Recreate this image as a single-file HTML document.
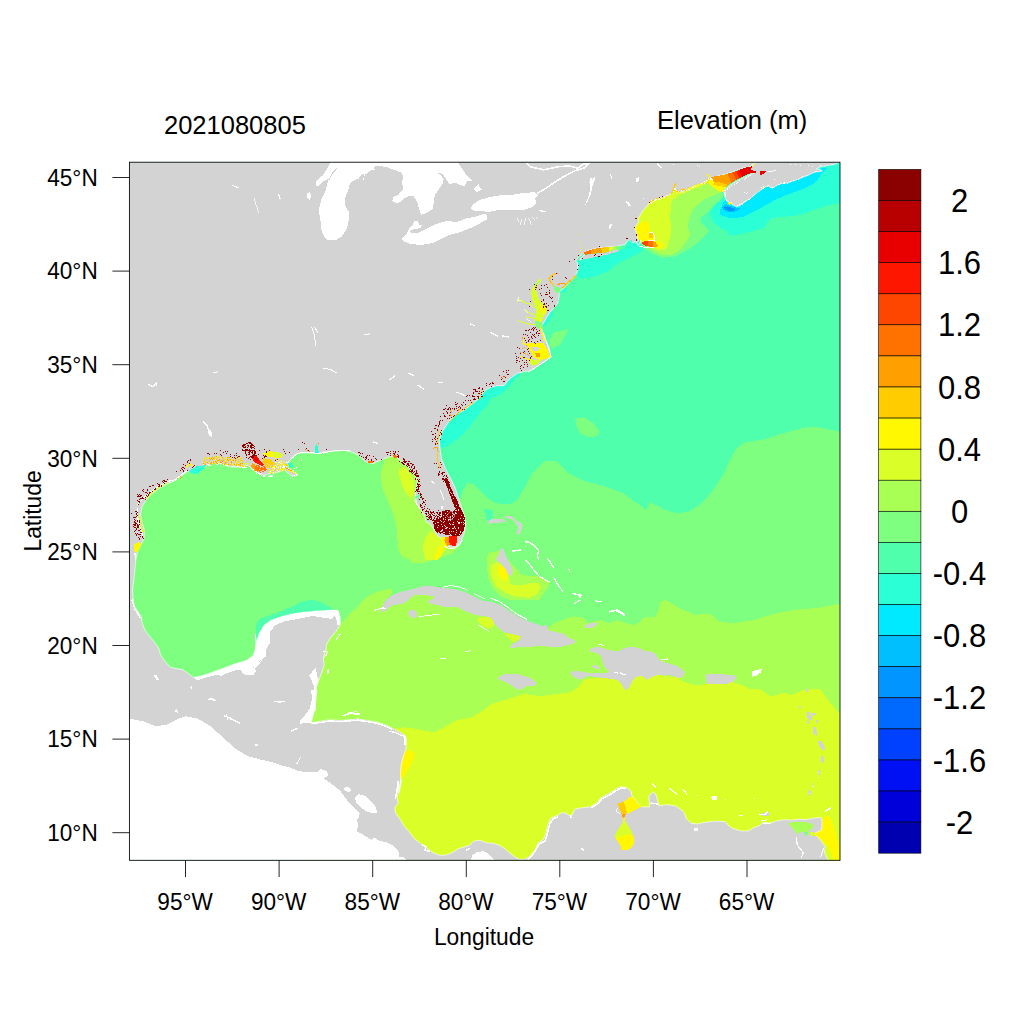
<!DOCTYPE html>
<html><head><meta charset="utf-8"><title>Elevation (m) 2021080805</title>
<style>
html,body{margin:0;padding:0;background:#fff;}
body{width:1024px;height:1024px;overflow:hidden;font-family:"Liberation Sans",sans-serif;}
svg{display:block}
text{font-family:"Liberation Sans",sans-serif;fill:#000}
</style></head><body>
<svg width="1024" height="1024" viewBox="0 0 1024 1024">
<rect width="1024" height="1024" fill="#fff"/>

<svg x="129.4" y="162.2" width="710.6" height="698.1" viewBox="129.4 162.2 710.6 698.1" overflow="hidden"><g shape-rendering="crispEdges">
<path fill="#50FFAC" d="M129,161 841,161 841,862 129,862Z"/>
<path fill="#7FFF7F" d="M129,400 380,400 432,440 445,480 455,498 459.7,500 462.8,490.6 467.5,482.8 473.8,484.4 480,490.6 487.8,498.4 495.6,503.1 508,504.7 516.5,501 524,488.5 531.5,473.5 544,461 556.5,461 569,473.5 584,481 604,486 624,493.5 632.5,499.8 646.2,509.8 650,502.2 662.5,508.5 675,513 687.5,512.2 700,504.8 712.5,491 722.5,476 730,459.8 736.2,448.5 745,442.2 762.5,439.8 782.5,433.5 800,428.5 812.5,426.5 825,428.5 841.2,432.2 841,862 129,862Z"/>
<path fill="#AAFF55" d="M300,862 300,720 318.8,658.1 322.7,645.6 333.6,626.9 339.8,624.5 343.8,620.6 350,613.6 357.8,606.6 364.1,598.8 371.9,594.1 379.7,590.9 387.5,589.4 391.7,589.5 391.7,593.4 387.8,597.3 383.9,602 384.7,607.5 395.6,599.7 411.2,593.4 426.9,591.9 442.5,596.6 458.1,601.2 473.8,607.5 489.4,610.6 505,618.4 520.6,627.8 536.2,635.6 535.6,634.4 548.9,628.9 548.9,626.6 555.9,622.7 565.3,618.8 574.7,616.4 584.1,618 587.2,623.4 593.4,621.1 601.2,620.3 609.1,623.4 616.9,620.3 626.2,623.4 635.6,625 645,617.2 654.4,617.2 659.1,609.4 660.6,601.6 665.3,600 667.5,601 680,608.5 695,614.8 710,613.5 720,622.2 735,623 755,619.8 775,613.5 795,609.8 817.5,608 841.2,603.5 841,862Z"/>
<path fill="#DAFF28" d="M390,862 390,735 394.8,729.1 403.4,727.2 412.8,728.3 423.8,730.6 434.7,732.2 440,729.8 441.5,728.8 456.5,720 471.5,717.5 484,710 491.5,703.8 509,698.8 524,693.8 539,696.2 559,693.8 570,692.2 577.8,687.5 582.5,681.2 585.6,678.9 595,678.1 607.5,676.6 629.4,684.4 632.5,681.2 635.6,677.3 641.9,675.8 646.6,679.7 652.8,676.6 657.5,675 676.2,677.3 680,678.1 680.3,680.2 688.1,683.3 697.5,685.6 706.9,684.1 733.4,682.2 741.2,684.8 749.1,688.8 760,689.5 766.2,693.4 770.9,696.6 778.8,694.2 785,692.7 789.7,695 795.9,693.4 802.2,690.3 810,689.5 820,688.8 830,702.5 841.2,715 841,862Z"/>
<path fill="#50FFAC" d="M255.5,642.5 256.2,626.9 260.9,620.6 270.3,615.2 281.2,611.2 293.8,605.8 303.1,601.1 312.5,600 320.3,601.9 328.1,605.8 334.4,610 337.5,615.9 296.9,626.9 265.6,645.6Z"/>
<path fill="#50FFAC" d="M256.1,624.4 260,618.9 268.6,615.8 288,610 288,621.2 268.6,629.1 262.4,641.6 256.4,640.8Z"/>
<path fill="#AAFF55" d="M385.9,458.1 382.8,465.9 380.5,476.9 382.8,489.4 387.5,500.3 392.2,511.2 396.1,523.8 397.7,539.4 398.4,550.3 404.7,560 396.4,525 397.2,537.5 398.8,550 405,557.8 411.2,560 409,562.2 421.5,563.5 434,559.8 451.5,553.5 456.5,548.5 456.5,516 434,466 409,453.5Z"/>
<path fill="#DAFF28" d="M399.5,468.8 405,467.2 411.2,475 414.4,482.8 413.6,493.8 411.2,498.4 406.6,493.8 401.9,484.4 398.8,475Z"/>
<path fill="#DAFF28" d="M423.8,540.6 430,531.2 433.9,532.8 442.5,539.1 448.8,546.9 442.5,553.1 437.8,560 425.3,560 423,550Z"/>
<path fill="#FFF800" d="M434.7,556.2 437.8,546.9 441.7,545.3 443.3,550 440.2,557.8 436.2,560 434.7,560Z"/>
<path fill="#2AFFD5" d="M478.4,400 489.4,400 487.8,404.7 481.6,410.9 475.3,418.8 469.1,426.6 462.8,434.4 453.4,442.2 445.6,446.9 440.9,448.4 437.8,440.6 440.9,431.2 447.2,421.9 456.6,414.1 465.9,407Z"/>
<path fill="#2AFFD5" d="M446.2,420 455.6,412.2 468.1,404.4 479.1,395 483.8,388.8 490,385.6 496.2,384.1 502.5,384.1 505.6,380.9 510.3,375.5 516.6,371.6 522.8,370.8 518.1,376.2 513.4,380.2 510.3,385.6 505.6,390.3 499.4,395 491.6,398.1 485.3,402.8 479.1,409.1 474.4,415.3 472,420 469.7,427.8 455.6,429.4Z"/>
<path fill="#2AFFD5" d="M541.2,325.6 546.2,318.8 548.8,313.8 553.1,309.4 552.5,315 549.4,321.2 546.2,325 543.1,326.5Z"/>
<path fill="#2AFFD5" d="M560.6,289.4 567.5,287.8 566.2,291.2 562.5,292.8 559.8,292.2Z"/>
<path fill="#2AFFD5" d="M576.9,276.2 577.8,271.2 577.5,265 577.5,265 575,261.9 578.8,260 618.8,250 625,248.8 626.2,243.8 630,241.2 636.2,242.5 641.2,240 642.5,243.8 638.8,246.2 643.8,248.1 642.5,251.2 635,255 627.5,258.8 620,262.5 612.5,266.2 605,270 597.5,272.5 590,275 582.5,277.5 575,280 617.5,265 607.5,271.2 597.5,275.6 587.5,278.1 581.2,278.8Z"/>
<path fill="#7FFF7F" d="M551.2,335 555,331.9 561.2,330.6 566.2,330 568.8,328.1 566.9,332.5 565,336.2 562.5,340 560,345 553.8,347.5 551.2,342.5Z"/>
<path fill="#7FFF7F" d="M549.4,340.3 552.5,334.8 558.8,330.9 566.6,330.2 565,335.6 561.9,340.3 557.2,345 552.5,348.9 550.2,345.8Z"/>
<path fill="#7FFF7F" d="M575.2,418.5 584,417.2 594,423.5 599.5,431 597.8,436 589,437.2 580.2,433.5 576.5,426Z"/>
<path fill="#7FFF7F" d="M713.8,177.2 723.9,195.9 720,200.6 713.8,205.3 707.5,211.6 701.2,217.8 701.2,222.5 705.9,227.2 709.1,230.3 704.4,236.6 698.1,242.8 688.8,249.1 680.9,253.8 673.1,256.9 662.2,257.7 652.8,253.8 646.6,249.8 638.8,241.2 632.5,222.5 651.2,191.2Z"/>
<path fill="#AAFF55" d="M713.8,177.2 721.6,192 713.8,195.2 704.4,199.1 696.6,205.3 691.9,211.6 688.8,219.4 688,227.2 690.3,235 685.6,242.8 679.4,250.6 671.6,254.5 663.8,255.3 655.9,252.2 651.2,249.1 638.8,241.2 632.5,222.5 651.2,191.2Z"/>
<path fill="#DAFF28" d="M713.8,177.2 712.2,183.4 707.5,183.4 698.1,187.3 688.8,191.2 679.4,195.2 671.6,200.6 670.8,210 670,219.4 671.6,228.8 670,238.1 668.4,244.4 665.3,249.8 659.1,250.6 653.6,248.3 638.8,241.2 632.5,222.5 651.2,191.2Z"/>
<path fill="#FFF800" d="M636.4,227.2 643.4,220.9 648.9,222.5 650.5,231.9 653.6,235 655.2,241.2 660.6,242.8 663,246.7 657.5,248.3 653.6,245.2 649.7,240.5 643.4,240.5 635.6,241.2 632.5,230.3Z"/>
<path fill="#2AFFD5" d="M723.9,195.9 720,200.6 713.8,205.3 709.8,213.9 713.8,222.5 721.6,228.8 729.4,231.9 727.5,235 735,235.6 745,233.1 755,230.6 763.8,228.1 767.5,222.5 771.2,218.1 780,216.9 790,216.2 800,215 807.5,212.5 815,209.4 825,206.2 841.2,202.5 841.2,160 795,172.5 745,197.5Z"/>
<path fill="#00EAFF" d="M723.8,201.2 720,210 720,215 727.5,217.5 736.2,218.1 745,216.2 755,211.2 765,205.6 775,200 785,195.6 795,191.9 805,188.1 812.5,184.4 817.5,180 821.2,174.4 823.8,171.9 827.5,167.5 795,172.5 745,191.2Z"/>
<path fill="#00BFFF" d="M721.9,206.9 726.2,204.4 731.2,206.2 736.2,207.5 740,208.1 737.5,210.6 732.5,212.2 727.5,211.8 723.1,209.6Z"/>
<path fill="#0095FF" d="M724,207.5 727.5,206.2 732.5,208.1 736.2,209 733.8,210.6 728.8,210.6 725,209.5Z"/>
<path fill="#AAFF55" d="M488,553.1 498.9,550.8 510.6,562.5 521.6,575 538.8,576.6 549.7,582 548.1,587.5 543.4,593.8 538.8,600 510.6,600 501.2,596.9 493.4,589.1 488,578.1 486.9,562.5Z"/>
<path fill="#DAFF28" d="M491.1,565.6 495.8,561.7 499.7,563.3 509.1,578.1 510.6,584.4 521.6,585.2 532.5,582.8 538.8,582.8 540.3,587.5 537.2,593.8 529.4,597.7 516.9,596.9 505.9,593 496.6,586.7 491.9,578.1 490.3,570.3Z"/>
<path fill="#FFF800" d="M498.1,567.2 501.2,564.1 505.9,568.8 508.3,575 506.7,579.7 502.8,580.5 499.7,576.6 498.1,571.9Z"/>
<path fill="#50FFAC" d="M482.5,508.6 493.4,510.2 493.4,517.2 489.5,521.1 486.4,520.3 485.6,514.1Z"/>
<path fill="#DAFF28" d="M478.4,617.7 489.4,616.1 494.1,621.6 493.3,627 487.8,628.6 481.6,625.5 478.4,621.6Z"/>
<path fill="#DAFF28" d="M504.2,633.3 515.9,634.8 520.6,636.4 519.1,639.5 512.8,641.9 508.1,637.2Z"/>
<path fill="#FFF800" d="M405,752.5 408.9,750.2 413.6,752.5 413.6,758.8 409.7,766.6 405,774.4 401.6,779.1 399.5,771.2 400.3,763.4 402.7,755.6Z"/>
<path fill="#FFF800" d="M820.6,823.9 823.8,816.9 828.4,816.1 831.6,820 833.9,827.8 836.2,835.6 838.6,843.4 839.1,860.6 833.9,860.6 830,851.2 826.9,845 822.2,840.3 815.9,835.6 814.4,832.5 821.4,830.2Z"/>
<path fill="#D3D3D3" d="M129,161 839,161 838.8,162.5 832.5,165 826.2,165.6 820,166.9 816.2,168.8 820,169.4 822.5,171.2 816.2,171.9 812.5,173.1 807.5,175.6 802.5,177.5 797.5,179.4 792.5,181.2 787.5,183.1 782.5,183.1 777.5,185 772.5,188.1 767.5,185.6 762.5,188.8 757.5,192.5 751.2,197.5 745,201.9 740,205.6 736.2,206.9 732.5,204.4 727.5,201.9 725,197.5 723.8,191.2 726.2,188.1 731.2,184.4 737.5,180.6 743.8,177.5 750,174.4 755,173.1 756.2,171.9 751.2,171.2 749.4,168.1 753.1,165 755.6,162.5 754.8,162.2 751.9,165.6 749.4,166.9 745,167.5 738.8,169.4 732.5,171.9 726.2,173.8 720,175.6 713.8,177.2 712.2,180.3 709.8,176.4 707.5,180.3 701.2,184.2 693.4,186.6 685.6,190.5 677.8,192.8 674.7,188.1 671.6,193.6 665.3,196.7 657.5,199.1 649.7,203 643.4,210 638,218.6 638.8,221.7 634.8,227.2 636.4,233.4 638.8,241.2 641.2,240.6 640,243.8 638.1,245.6 636.2,241.9 631.9,242.5 630,240.6 627.5,241.2 625,244.4 620,245.6 613.8,246.5 605,247.2 597.5,248.1 590,250 585,251.9 583.1,253.8 578.8,256.9 575.6,261.2 577.5,262.5 578.1,267.5 578.1,265 577.5,271.2 575,276.2 571.2,280.6 568.1,283.8 565,286.9 561.9,290 558.8,291.9 559.4,293.1 558.8,298.8 557.5,303.8 553.8,308.1 550,312.5 547.5,316.2 543.8,322.5 541.9,325.6 541.2,327.5 542.5,331.2 544.4,336.2 543.1,332.5 546.2,340.3 549.4,348.1 550.9,356.7 546.2,360.6 540,364.5 533.8,368.4 529.8,370.8 524.4,371.6 518.1,373.1 511.9,377 507.2,381.7 504.1,385.6 497.8,385.6 491.6,387.2 485.3,390.3 480.6,396.6 475.9,401.2 469.7,405.9 463.4,410.6 457.2,413.8 452.5,416.9 448.8,421.9 442.5,431.2 439.4,440.6 440.2,450 441.7,459.4 445.6,468.8 450.3,478.1 455,487.5 458.1,496.9 461.2,506.2 464.4,515.6 465.6,523.4 464.4,532.8 461.2,540.6 457.3,546.1 451.9,547.7 447.2,546.1 442.5,539.1 436.2,534.4 433.1,528.1 430,523.4 426.1,521.9 424.5,515.6 420.6,509.4 416.7,503.1 415.2,496.9 415.9,489.1 417.5,481.2 415.2,475 409.7,468.8 403.4,462.5 397.2,457.8 390.9,456.2 385.9,458.1 379.7,460.5 373.4,463.6 365.6,462 359.4,455.8 351.6,451.9 343.8,450.3 334.4,451.1 325,451.9 318.8,453.1 312.5,453.4 304.7,452.7 296.9,453.4 292.2,457.3 289.1,461.2 287.5,466.7 292.2,470.6 296.9,474.5 295.3,476.1 290.6,475.3 284.4,469.8 278.1,472.2 271.9,473 264.1,475.3 256.2,472.2 250,467.5 248.3,465.2 240.5,466.7 232.7,467.2 224.9,465.2 218.6,463.1 212.4,463.1 206.1,465.2 203,469.1 196.8,473.8 190.5,472.2 187.4,471.4 181.1,476.1 174.9,480.8 167.1,483.9 159.2,488.6 151.4,494.1 146,500.3 142.1,506.6 140.5,514.4 142.1,522.2 144.4,530 144.4,537.8 141.3,544.1 137.4,551.9 135.8,560 134.2,576 132.5,591 133.5,601 132.7,599.4 135,607.2 141.3,616.6 142.1,622.8 145.2,630.6 151.4,638.4 158.5,647.8 160.8,655.6 165.5,661.9 170.2,667.3 178,668.9 182.7,669.7 187.4,672.8 191.3,675.9 193.6,677.5 201.4,675.9 210.8,672.8 221.8,668.9 234.2,664.2 246.8,660.3 253,655.6 255.3,649.4 255.8,641.6 255.3,633.8 256.2,642.5 259.4,633.1 264.1,625.3 270.3,620.6 281.2,616.7 293.8,613.6 306.2,612 318.8,610.9 331.2,610.2 338.3,610.5 339.8,615.9 340.6,622.2 339.8,625.3 335.9,631.6 330.5,637.8 326.6,644.1 325.8,650.3 323.4,658.1 324.2,664.4 321.9,672.2 318.8,680 316.4,687.8 315.6,698.8 316.7,690 315.9,699.4 315.2,708.8 312.8,716.6 311.2,722.8 320.6,721.2 330,719.7 339.4,720.5 348.8,719.7 358.1,718.9 367.5,720.5 376.9,722 386.2,725.2 392.5,728.3 398.8,731.4 405,735.3 406.6,740 405.8,749.4 403.4,755.6 401.1,765 400.3,774.4 401.1,783.8 398.8,793.1 401.1,779.4 398.8,788.8 397.2,798.1 398,803.6 394.8,807.5 395.6,813 399.5,818.4 404.2,826.2 409.7,832.5 414.4,838.8 420.6,843.4 426.9,848.1 433.1,852.8 439.4,855.2 445.6,855.2 451.9,852.8 458.1,848.9 465.2,846.6 469.8,845 473.8,841.1 480,840.3 486.2,842.7 494.1,843.4 500.3,845.8 505,848.9 509.7,852.8 514.4,856.7 519.1,859.4 525.3,859.1 530.9,855.3 535.6,849.1 538,842.8 543.4,839.7 545.8,833.4 548.1,824.1 551.2,817.8 557.5,815.5 562.2,812.3 566.9,813.9 571.6,816.2 574.7,809.2 582.5,807.7 590.3,806.9 596.6,803 601.2,797.5 607.5,794.4 613.8,790.5 620,786.6 626.2,787.3 630.9,791.2 631.7,795.2 641.1,806.9 649.7,806.9 648.9,795.9 652.8,792 655.9,794.4 657.5,800.6 659.1,805.8 666.9,804.5 676.2,806.1 680,809.1 683.9,812.2 686.2,818.4 690.9,823.1 697.2,823.9 705,822.3 714.4,821.2 725.3,821.6 728.4,825.5 733.1,828.6 740.9,830.9 748.8,830.9 753.4,827.8 759.7,825.5 762.8,822.3 770.6,823.1 776.9,820.8 784.7,819.7 792.5,820 798.8,819.2 805,819.7 809.7,818.8 815.9,817.7 821.4,817.7 822.2,823.1 821.4,830.2 814.4,833.3 820.6,840.3 825.3,846.6 824.5,852.8 828.4,860.6 841,862 129,862Z"/>
<path fill="none" stroke="#fff" stroke-width="0.8" shape-rendering="auto" stroke-opacity="0.8" d="M838.8,162.5 832.5,165.0 826.2,165.6 820.0,166.9 816.2,168.8 820.0,169.4 822.5,171.2 816.2,171.9 812.5,173.1 807.5,175.6 802.5,177.5 797.5,179.4 792.5,181.2 787.5,183.1 782.5,183.1 777.5,185.0 772.5,188.1 767.5,185.6 762.5,188.8 757.5,192.5 751.2,197.5 745.0,201.9 740.0,205.6 736.2,206.9 732.5,204.4 727.5,201.9 725.0,197.5 723.8,191.2 726.2,188.1 731.2,184.4 737.5,180.6 743.8,177.5 750.0,174.4 755.0,173.1 756.2,171.9 751.2,171.2 749.4,168.1 753.1,165.0 755.6,162.5 754.8,162.2 751.9,165.6 749.4,166.9 745.0,167.5 738.8,169.4 732.5,171.9 726.2,173.8 720.0,175.6 713.8,177.2 712.2,180.3 709.8,176.4 707.5,180.3 701.2,184.2 693.4,186.6 685.6,190.5 677.8,192.8 674.7,188.1 671.6,193.6 665.3,196.7 657.5,199.1 649.7,203.0 643.4,210.0 638.0,218.6 638.8,221.7 634.8,227.2 636.4,233.4 638.8,241.2 641.2,240.6 640.0,243.8 638.1,245.6 636.2,241.9 631.9,242.5 630.0,240.6 627.5,241.2 625.0,244.4 620.0,245.6 613.8,246.5 605.0,247.2 597.5,248.1 590.0,250.0 585.0,251.9 583.1,253.8 578.8,256.9 575.6,261.2 577.5,262.5 578.1,267.5 578.1,265.0 577.5,271.2 575.0,276.2 571.2,280.6 568.1,283.8 565.0,286.9 561.9,290.0 558.8,291.9 559.4,293.1 558.8,298.8 557.5,303.8 553.8,308.1 550.0,312.5 547.5,316.2 543.8,322.5 541.9,325.6 541.2,327.5 542.5,331.2 544.4,336.2 543.1,332.5 546.2,340.3 549.4,348.1 550.9,356.7 546.2,360.6 540.0,364.5 533.8,368.4 529.8,370.8 524.4,371.6 518.1,373.1 511.9,377.0 507.2,381.7 504.1,385.6 497.8,385.6 491.6,387.2 485.3,390.3 480.6,396.6 475.9,401.2 469.7,405.9 463.4,410.6 457.2,413.8 452.5,416.9 448.8,421.9 442.5,431.2 439.4,440.6 440.2,450.0 441.7,459.4 445.6,468.8 450.3,478.1 455.0,487.5 458.1,496.9 461.2,506.2 464.4,515.6 465.6,523.4 464.4,532.8 461.2,540.6 457.3,546.1 451.9,547.7 447.2,546.1 442.5,539.1 436.2,534.4 433.1,528.1 430.0,523.4 426.1,521.9 424.5,515.6 420.6,509.4 416.7,503.1 415.2,496.9 415.9,489.1 417.5,481.2 415.2,475.0 409.7,468.8 403.4,462.5 397.2,457.8 390.9,456.2 385.9,458.1 379.7,460.5 373.4,463.6 365.6,462.0 359.4,455.8 351.6,451.9 343.8,450.3 334.4,451.1 325.0,451.9 318.8,453.1 312.5,453.4 304.7,452.7 296.9,453.4 292.2,457.3 289.1,461.2 287.5,466.7 292.2,470.6 296.9,474.5 295.3,476.1 290.6,475.3 284.4,469.8 278.1,472.2 271.9,473.0 264.1,475.3 256.2,472.2 250.0,467.5 248.3,465.2 240.5,466.7 232.7,467.2 224.9,465.2 218.6,463.1 212.4,463.1 206.1,465.2 203.0,469.1 196.8,473.8 190.5,472.2 187.4,471.4 181.1,476.1 174.9,480.8 167.1,483.9 159.2,488.6 151.4,494.1 146.0,500.3 142.1,506.6 140.5,514.4 142.1,522.2 144.4,530.0 144.4,537.8 141.3,544.1 137.4,551.9 135.8,560.0 134.2,576.0 132.5,591.0 133.5,601.0 132.7,599.4 135.0,607.2 141.3,616.6 142.1,622.8 145.2,630.6 151.4,638.4 158.5,647.8 160.8,655.6 165.5,661.9 170.2,667.3 178.0,668.9 182.7,669.7 187.4,672.8 191.3,675.9 193.6,677.5 201.4,675.9 210.8,672.8 221.8,668.9 234.2,664.2 246.8,660.3 253.0,655.6 255.3,649.4 255.8,641.6 255.3,633.8 256.2,642.5 259.4,633.1 264.1,625.3 270.3,620.6 281.2,616.7 293.8,613.6 306.2,612.0 318.8,610.9 331.2,610.2 338.3,610.5 339.8,615.9 340.6,622.2 339.8,625.3 335.9,631.6 330.5,637.8 326.6,644.1 325.8,650.3 323.4,658.1 324.2,664.4 321.9,672.2 318.8,680.0 316.4,687.8 315.6,698.8 316.7,690.0 315.9,699.4 315.2,708.8 312.8,716.6 311.2,722.8 320.6,721.2 330.0,719.7 339.4,720.5 348.8,719.7 358.1,718.9 367.5,720.5 376.9,722.0 386.2,725.2 392.5,728.3 398.8,731.4 405.0,735.3 406.6,740.0 405.8,749.4 403.4,755.6 401.1,765.0 400.3,774.4 401.1,783.8 398.8,793.1 401.1,779.4 398.8,788.8 397.2,798.1 398.0,803.6 394.8,807.5 395.6,813.0 399.5,818.4 404.2,826.2 409.7,832.5 414.4,838.8 420.6,843.4 426.9,848.1 433.1,852.8 439.4,855.2 445.6,855.2 451.9,852.8 458.1,848.9 465.2,846.6 469.8,845.0 473.8,841.1 480.0,840.3 486.2,842.7 494.1,843.4 500.3,845.8 505.0,848.9 509.7,852.8 514.4,856.7 519.1,859.4 525.3,859.1 530.9,855.3 535.6,849.1 538.0,842.8 543.4,839.7 545.8,833.4 548.1,824.1 551.2,817.8 557.5,815.5 562.2,812.3 566.9,813.9 571.6,816.2 574.7,809.2 582.5,807.7 590.3,806.9 596.6,803.0 601.2,797.5 607.5,794.4 613.8,790.5 620.0,786.6 626.2,787.3 630.9,791.2 631.7,795.2 641.1,806.9 649.7,806.9 648.9,795.9 652.8,792.0 655.9,794.4 657.5,800.6 659.1,805.8 666.9,804.5 676.2,806.1 680.0,809.1 683.9,812.2 686.2,818.4 690.9,823.1 697.2,823.9 705.0,822.3 714.4,821.2 725.3,821.6 728.4,825.5 733.1,828.6 740.9,830.9 748.8,830.9 753.4,827.8 759.7,825.5 762.8,822.3 770.6,823.1 776.9,820.8 784.7,819.7 792.5,820.0 798.8,819.2 805.0,819.7 809.7,818.8 815.9,817.7 821.4,817.7 822.2,823.1 821.4,830.2 814.4,833.3 820.6,840.3 825.3,846.6 824.5,852.8 828.4,860.6"/>
<path fill="#FFFFFF" d="M128,718 130,718.8 143,721.2 155.5,726.2 165.5,725 175.5,720 185.5,716.2 198,718.8 210.5,726.2 223,737.5 235.5,748.8 248,756.2 260.5,759.5 273,762.5 280,765 289.4,767.3 297.2,770.5 305,772 317.5,772 320.6,768.9 326.9,771.2 328.4,775.9 323.8,778.3 331.6,783.8 339.4,790 344.1,796.2 348.8,802.5 355,808.8 359.7,813.4 358.9,818.1 356.8,818.8 358,825 356.8,831.2 365.5,836.2 371.8,840 374.2,837.5 380,841.1 386.2,841.9 392.5,845 397.2,849.7 399.5,854.4 398.8,857.5 403.4,856.7 407.3,860.6 470.6,860.6 472.2,855.2 476.9,852 483.1,851.2 489.4,854.4 494.8,860.6 500,863 128,863Z"/>
<path fill="#D3D3D3" d="M578.8,260 581.9,256.9 585,255 592.5,254 601.2,253.1 607.5,252.5 611.2,250.6 615,250 618.8,250 618.1,251.5 612.5,253.1 606.2,255 597.5,256.5 590,258.1 583.8,259.4 578.8,260.9Z"/>
<path fill="#D3D3D3" d="M380.8,608.3 384.7,602 390.9,595.8 400.3,591.9 411.2,589.5 422.2,586.4 433.1,586.4 442.5,588 453.4,588.8 464.4,591.9 473.8,596.6 481.6,600.5 492.5,602 501.9,605.9 509.7,611.4 517.5,616.1 525.3,620 533.1,623.1 540,625.5 526.2,620.3 534.1,623.4 541.9,625.8 546.6,625 548.9,630.5 555.9,632 563.8,633.6 568.4,637.5 574.7,640.3 575.5,643 570,644.5 560.6,646.9 551.2,646.9 541.9,646.1 530.9,646.6 520,647.3 528.4,646.6 517.5,647.3 509.7,648.1 512.8,643.4 519.1,640.3 520.6,636.4 515.9,634.8 505,632.5 500.3,629.4 494.8,624.7 492.5,620 489.4,616.9 481.6,616.1 473.8,614.5 465.9,611.4 458.1,607.5 450.3,606.7 444.1,607.5 439.4,605.2 433.1,604.4 426.9,602 430,599.7 434.7,598.1 433.1,595.8 425.3,595.3 414.4,595.3 409.7,598.9 403.4,603.6 392.5,605.2 389.4,607.5 384.7,611.4 381.6,612.2Z"/>
<path fill="#D3D3D3" d="M408.1,612.2 411.2,609.8 415.2,610.3 417.5,613.8 416.7,616.9 412.8,618.1 408.9,616.1Z"/>
<path fill="#D3D3D3" d="M589.5,649.2 595,646.9 601.2,647.7 607.5,649.7 613.8,650.8 620,650.8 624.7,647.7 632.5,646.9 638.8,648.1 645,650.8 651.2,651.6 655.9,653.9 659.1,660.2 665.3,662.5 671.6,664.1 677.8,667.2 667.8,663.8 675.6,665.3 681.9,669.2 685,672.3 682.7,677 678.8,678.6 675.6,676.2 667.8,675 660,675 676.2,677.3 670,675.8 663.8,675.3 657.5,675 652.8,676.6 646.6,679.7 641.9,675.8 635.6,677.3 632.5,681.2 629.4,687.5 626.2,690.6 623.1,687.5 621.6,683.6 618.4,680.5 612.2,678.9 604.4,678.1 596.6,677.3 588.8,675.8 584.1,678.1 579.4,679.7 573.1,676.6 570,673.4 573.1,671.1 579.4,671.1 587.2,672.7 595,673.4 602.8,673.4 609.1,671.9 605.9,668.8 602.8,664.1 602,658.6 599.7,654.7 595,652.3 590.3,651.6Z"/>
<path fill="#D3D3D3" d="M591.9,665.6 596.6,665.3 600.5,668 598.1,669.5 593.4,668Z"/>
<path fill="#D3D3D3" d="M584.8,625.8 588.8,623.4 595,622.7 597.3,621.1 596.6,625 591.9,628.1 585.6,628.4Z"/>
<path fill="#D3D3D3" d="M497.8,677.5 504,674.5 516.5,673.8 529,677.5 536.5,682.5 535.2,685.5 526.5,686.2 520.2,690 514,687.5 506.5,682.5 499,680Z"/>
<path fill="#D3D3D3" d="M705.3,674.7 711.6,673.9 722.5,674.4 735,675 735.8,678.6 733.4,681.7 727.2,683.8 717.8,683.8 706.9,684.1 706.1,679.4Z"/>
<path fill="#FFFFFF" d="M752.2,671.6 756.9,669.7 761.6,669.2 760.8,672.3 756.9,675.5 752.2,676.6Z"/>
<path fill="#D3D3D3" d="M500.5,549.2 503.6,549.2 506.7,557.8 510.6,565.6 513,570.3 511.4,575.8 508.3,575 505.2,568.8 501.2,564.1 495.8,559.4 498.9,553.9Z"/>
<path fill="#D3D3D3" d="M487.2,521.1 493.4,518.8 504.4,519.5 506.7,521.9 493.4,523.1 489.5,523.8Z"/>
<path fill="#D3D3D3" d="M505.2,516.4 512.2,516.4 516.9,521.1 522.3,523.4 522.3,528.1 519.2,535.2 516.1,533.6 518.4,528.1 516.9,524.2 512.2,519.5 505.9,518Z"/>
<path fill="none" stroke="#FFFFFF" stroke-width="1.4" d="M525.5,542.2 528.6,541.9 534.1,545.3 538.8,550 537.2,556.2 538.8,559.4"/>
<path fill="none" stroke="#FFFFFF" stroke-width="1.4" d="M546.6,558.6 549.7,560.9 553.6,568"/>
<path fill="none" stroke="#FFFFFF" stroke-width="1.2" d="M525.5,560.2 529.4,564.1 534.1,570.3 538.8,575.8 545,579.7 549.7,582"/>
<path fill="none" stroke="#FFFFFF" stroke-width="1.2" d="M553.6,577.3 556.7,582.8 559.8,587.5 563,591.4"/>
<path fill="none" stroke="#FFFFFF" stroke-width="1.4" d="M512.2,551.2 520.8,550"/>
<path fill="none" stroke="#FFFFFF" stroke-width="1.6" d="M572.3,593.4 580.9,595.3 579.4,598.4"/>
<path fill="none" stroke="#FFFFFF" stroke-width="1.2" d="M568.8,568.8 570,571.9"/>
<path fill="#D3D3D3" d="M806.5,712.5 809.5,712 811.2,715 812.5,719.5 809.5,720.5 807.5,717.5Z"/>
<path fill="#D3D3D3" d="M812.5,727.5 815.5,727 817,731.2 816.5,735.5 814,735 813,731.2Z"/>
<path fill="#D3D3D3" d="M818,741.2 821.2,740.5 823.8,744.5 825,749.5 822,750 819.5,746.2Z"/>
<path fill="#D3D3D3" d="M820.8,756.2 823.2,755.5 824,760 823,763.8 821,762.5Z"/>
<path fill="#D3D3D3" d="M817.5,770 820,769.5 820,774.5 818,775Z"/>
<path fill="#D3D3D3" d="M812.5,783 814.5,782.5 814,787.5 812.5,787.5Z"/>
<path fill="#D3D3D3" d="M807.5,791.2 810.5,790 810.5,794.5 808,795.5Z"/>
<path fill="#D3D3D3" d="M805.5,688.8 808,688.2 808,691.8 806,692Z"/>
<path fill="#D3D3D3" d="M798.8,705.5 800.8,705.5 800.5,708 799,708Z"/>
<path fill="#D3D3D3" d="M806.5,721.2 809,721.2 809,723.5 807,723.8Z"/>
<path fill="#D3D3D3" d="M815.5,720.5 818,720 818.2,722.5 816,723Z"/>
<path fill="#D3D3D3" d="M811.2,713 815.5,712.5 816.5,715 812.5,715.8Z"/>
<path fill="#D3D3D3" d="M758.9,813.8 764.4,813 767.5,810.9 769.8,813 768.3,816.1 762.8,816.1Z"/>
<path fill="#FFFFFF" d="M711.2,796.6 717.2,795.8 717.5,799.7 712,800.5Z"/>
<path fill="none" stroke="#FFFFFF" stroke-width="1.2" d="M652,783.4 655.9,787.3"/>
<path fill="none" stroke="#FFFFFF" stroke-width="1.2" d="M669.2,788.1 677,794.4"/>
<path fill="none" stroke="#FFFFFF" stroke-width="1.2" d="M683.1,789.5 687,794.2"/>
<path fill="none" stroke="#FFFFFF" stroke-width="1.5" d="M825.3,811.4 830.8,807.8"/>
<path fill="#FFFFFF" d="M331.2,160 327.3,168.8 322.5,175.6 316.6,180.5 315.6,185.4 318.6,186.4 323.4,181.5 329.3,178.6 327.3,183.4 325.4,191.2 321.5,199.1 318.6,210.8 320.5,220.5 321.5,230.3 324.4,237.1 328.3,240.5 336.1,240.1 342,236.2 346.9,228.4 349.2,218.6 348.8,211.8 345.3,205.9 344.9,198.1 347.9,191.2 349.8,183.4 353.7,180.5 358.6,178.6 360.5,175.6 363.5,173.7 364.5,178.6 362.5,180.5 365.4,174.6 370.3,170.7 375.2,169.8 373.2,166.8 378.1,165.9 385.9,166.8 393.8,169.8 401.6,172.7 403.5,177.6 401.6,181.5 403.5,189.3 399.6,193.2 398.6,195.2 393.8,196.1 392.2,201 396.7,203.4 400.6,202 404.5,198.1 409.4,196.1 413.3,196.1 417.2,202 419.1,208.8 421.1,214.7 427,212.7 432.8,208.8 434.8,195.2 438.7,189.3 442.6,183.4 443.6,179.5 440.6,174.6 436.7,172.7 442.6,173.7 446.5,179.5 449.4,184.4 454.3,182.5 464.1,186.4 467,181.5 471.9,180.5 466,174.6 462.1,168.8 456.2,160Z"/>
<path fill="none" stroke="#D3D3D3" stroke-width="1.2" d="M329.3,179.5 332.2,173.7 337.1,167.8"/>
<path fill="#FFFFFF" d="M401.6,239.1 406.4,234.2 409.4,228.4 412.3,225.4 414.3,221.5 417.2,220.9 419.1,224.5 422.1,225.4 420.1,228.4 413.3,228.8 409.4,232.3 417.2,233.2 421.1,231.3 432.8,225.4 440.6,222.5 448.4,220.9 456.2,222.1 466,218.6 475.8,216.6 484.6,213.7 487.5,215.7 486.5,219.6 479.7,223.5 471.9,227.4 460.2,232.3 448.4,235.2 438.7,240.1 432.8,243 421.1,245 410.4,244 404.5,241.6Z"/>
<path fill="#FFFFFF" d="M470.7,207.9 473.7,203.9 479.5,200 489.3,197.1 499.1,195.5 510.8,195.2 518.6,193.6 526.4,192.8 534.2,192.2 538.1,195.2 535.2,198.1 536.2,203.9 532.3,206.9 522.5,210.4 510.8,209.8 499.1,209.8 489.3,211.8 479.5,211.2 472.7,210.4Z"/>
<path fill="#FFFFFF" d="M476.8,185.4 478.7,183.4 479.7,187.3 482.6,189.3 476.8,192.2 473.4,189.3Z"/>
<path fill="#FFFFFF" d="M307.4,193.2 309.8,192.2 310.9,195.2 309.4,200 307.4,198.1Z"/>
<path fill="none" stroke="#FFFFFF" stroke-width="1.6" d="M537.1,193.6 545.9,188.3 555.7,181.5 565.5,175.6 575.2,170.7 585,167.8 588.9,163.9 583,164.3 578.2,168.2 569.4,165.9 557.7,166.8 544,169.8 530.3,166.8 526.4,162.9"/>
<path fill="#FFFFFF" d="M590.5,178 592.8,178.6 595.2,176.6 594.4,181.5 592.8,184.4 592,189.3 590.1,196.1 587.3,202 584.2,206.9 586.6,201 588.9,195.2 590.5,187.3 589.3,182.5Z"/>
<path fill="none" stroke="#FFFFFF" stroke-width="0.8" d="M516.6,217.6 518.6,221.5"/>
<path fill="none" stroke="#FFFFFF" stroke-width="0.8" d="M522.1,218.6 520.2,225.4"/>
<path fill="none" stroke="#FFFFFF" stroke-width="0.8" d="M525.4,217.6 524.5,225.4"/>
<path fill="none" stroke="#FFFFFF" stroke-width="0.8" d="M528.4,217.6 531.3,224.5"/>
<path fill="none" stroke="#FFFFFF" stroke-width="0.8" d="M531.3,216.6 534.2,219.6"/>
<path fill="none" stroke="#FFFFFF" stroke-width="0.8" d="M535.2,216.6 537.1,218.6"/>
<path fill="none" stroke="#FFFFFF" stroke-width="1.2" d="M539.1,210.4 545.9,211.8"/>
<path fill="none" stroke="#FFFFFF" stroke-width="1.0" d="M311.8,327 314.2,335 316,346.2"/>
<path fill="none" stroke="#FFFFFF" stroke-width="1.0" d="M314.2,327 318,332.5"/>
<path fill="none" stroke="#FFFFFF" stroke-width="1.0" d="M323,368.2 330.5,369.5 336.8,373"/>
<path fill="none" stroke="#FFFFFF" stroke-width="1.2" d="M148.5,384.5 153,387 156.5,382.5 156.5,386.2"/>
<path fill="none" stroke="#FFFFFF" stroke-width="1.0" d="M213,372.5 218.5,371.8"/>
<path fill="none" stroke="#FFFFFF" stroke-width="1.0" d="M231.8,185 239.2,188.2"/>
<path fill="none" stroke="#FFFFFF" stroke-width="0.8" d="M254.2,197.5 256.8,206.2 258.5,212.5"/>
<path fill="none" stroke="#FFFFFF" stroke-width="1.0" d="M364.2,335 370,333.8"/>
<path fill="#FFFFFF" d="M306.8,193.8 310,192.5 311,197.5 308,199.5Z"/>
<path fill="none" stroke="#FFFFFF" stroke-width="1.2" d="M278.5,193.8 280,198.8"/>
<path fill="none" stroke="#FFFFFF" stroke-width="1.2" d="M203,421.5 207.5,426 209.2,434.8 211.8,436"/>
<path fill="none" stroke="#FFFFFF" stroke-width="1.2" d="M373.5,442.2 378,443.5"/>
<path fill="none" stroke="#FFFFFF" stroke-width="1.0" d="M470.2,323.8 475.2,326.2"/>
<path fill="none" stroke="#FFFFFF" stroke-width="1.3" d="M490.2,332.5 497.8,336.2"/>
<path fill="none" stroke="#FFFFFF" stroke-width="1.3" d="M501.5,335.8 509,337"/>
<path fill="none" stroke="#FFFFFF" stroke-width="1.2" d="M389.5,380 395.2,375.5"/>
<path fill="none" stroke="#FFFFFF" stroke-width="1.2" d="M407.8,373 414,375.5"/>
<path fill="none" stroke="#FFFFFF" stroke-width="1.2" d="M417.8,385 424,389.5"/>
<path fill="none" stroke="#FFFFFF" stroke-width="1.0" d="M437.8,382 443.5,382.5"/>
<path fill="none" stroke="#FFFFFF" stroke-width="1.2" d="M456.5,392 466.5,396.2"/>
<path fill="#FFFFFF" d="M626,202 629,203 631.5,206.2 628.5,205.5Z"/>
<path fill="#FFFFFF" d="M609,225.5 612,223.8 611,228 609,228.8Z"/>
<path fill="#FFFFFF" d="M626.2,201.2 629.5,202.5 631.2,206.2 628,205.5Z"/>
<path fill="#FFFFFF" d="M609.5,224.5 612,223.8 611.2,228 609.5,228.8Z"/>
<path fill="#FFFFFF" d="M636.2,178 639.5,177 638.8,181.2 636.2,182Z"/>
<path fill="none" stroke="#FFFFFF" stroke-width="1.0" d="M610.5,173.8 611.5,178.8"/>
<path fill="none" stroke="#FFFFFF" stroke-width="1.2" d="M657,163.8 661.2,167.5"/>
<path fill="#FFFFFF" d="M207.7,699.4 210.8,697.8 215.5,699.7 216.3,701.6 212.4,700.3Z"/>
<path fill="#FFFFFF" d="M174.9,711.9 176.8,709.1 178,712.7Z"/>
<path fill="none" stroke="#FFFFFF" stroke-width="1.2" d="M224.1,715.8 229.6,718.1 235.8,721.2 240.2,723.3"/>
<path fill="none" stroke="#FFFFFF" stroke-width="1.0" d="M226.4,714.2 228,719.7"/>
<path fill="none" stroke="#FFFFFF" stroke-width="1.0" d="M230.3,716.6 231.1,720.5"/>
<path fill="#FFFFFF" d="M254.6,744.7 256.9,743.6 258.6,744.7 256.4,746.6Z"/>
<path fill="none" stroke="#FFFFFF" stroke-width="1.2" d="M278.3,702.2 284.7,701.6"/>
<path fill="#FFFFFF" d="M153.8,675.6 156.4,675.2 159.2,679.8 156.9,680.6Z"/>
<path fill="#FFFFFF" d="M190.2,686.9 192.1,685.3 192.4,688.4 190.8,689.2Z"/>
<path fill="none" stroke="#FFFFFF" stroke-width="1.2" d="M207.7,699.4 212.4,698.6 216.3,701.2"/>
<path fill="none" stroke="#FFFFFF" stroke-width="1.0" d="M274.9,701.2 284.2,701.9"/>
<path fill="#FFFFFF" d="M174.9,711.1 176.8,709.1 178,712.7Z"/>
<path fill="none" stroke="#FFFFFF" stroke-width="1.0" d="M255.5,744.5 258,746"/>
<path fill="none" stroke="#FFFFFF" stroke-width="1.0" d="M274.2,701.2 284.2,702"/>
<path fill="none" stroke="#FFFFFF" stroke-width="1.0" d="M296.8,763.8 300.5,757.5"/>
<path fill="#FFFFFF" d="M193.6,677.5 201.4,675.9 210.8,672.8 221.8,668.9 234.2,664.2 246.8,660.3 253,655.6 255.3,649.4 255.8,641.6 255.3,633.8 256.4,640.8 256.2,642.5 259.4,633.1 264.1,625.3 270.3,620.6 281.2,616.7 293.8,613.6 306.2,612 318.8,610.9 331.2,610.2 338.3,610.5 339.8,615.9 340.6,622.2 339.8,625.3 337.5,625.3 336.7,620.6 335.2,615.9 331.2,618.8 321.9,617.5 312.5,615.9 296.9,619.1 284.4,621.4 275,625.3 270.3,631.6 270.3,642.5 266.4,648.8 265.6,656.6 259.4,661.2 253.1,666.7 254.7,671.4 250,673.8 263.9,658.8 257.7,662.7 253,666.6 256.1,671.2 253,675.2 243.6,674.4 241.3,670.5 237.4,669.7 228,672.8 221.8,675.6 215.5,675.2 206.1,677.5 196.8,680.6Z"/>
<path fill="none" stroke="#FFFFFF" stroke-width="1.6" d="M131.9,599.4 135,608.8 140.5,618.1"/>
<path fill="#FFFFFF" d="M309.4,675.3 315.6,667.5 317.5,676.9 318.8,680 316.4,687.8 315.6,698.8 315.6,710 310.9,710 312.5,695.6 314.1,686.2Z"/>
<path fill="#FFFFFF" d="M311.2,690 316.7,690 315.9,699.4 315.2,708.8 312.8,716.6 311.2,722.8 300.3,723.6 299.5,721.2 305,715 309.7,708.8 312,699.4Z"/>
<path fill="none" stroke="#FFFFFF" stroke-width="1.5" d="M311.2,723.4 320.6,722.5 330,720.9 339.4,721.7 348.8,720.9 358.1,720.2 367.5,721.7 376.9,723.3 386.2,726.4 392.5,729.5"/>
<path fill="none" stroke="#FFFFFF" stroke-width="1.5" d="M342.5,715.8 350.3,713.4 359.7,714.2"/>
<path fill="none" stroke="#FFFFFF" stroke-width="1.0" d="M347.2,713.1 356.6,711.6"/>
<path fill="none" stroke="#FFFFFF" stroke-width="1.5" d="M291.2,730.9 298,728.3"/>
<path fill="none" stroke="#FFFFFF" stroke-width="1.3" d="M389.4,731.4 395.6,732.5 405,736.9 405,744.7"/>
<path fill="none" stroke="#FFFFFF" stroke-width="1.0" d="M398.8,780.6 396.4,790 395.6,799.4"/>
<path fill="none" stroke="#FFFFFF" stroke-width="1.0" d="M337.5,633.9 339.8,634.7 335.9,640.2"/>
<path fill="none" stroke="#FFFFFF" stroke-width="1.0" d="M322.7,651.9 327.3,651.1 326.6,655 322.7,658.1"/>
<path fill="#FFFFFF" d="M326.6,670.6 328.9,669.1 329.7,672.2 327.3,674.5Z"/>
<path fill="#FFFFFF" d="M355,797.8 358.1,793.9 364.4,795.5 370.6,800.9 376.1,807.2 376.9,812.7 372.2,813.4 365.9,811.1 359.7,806.4 355.8,801.7Z"/>
<path fill="#FFFFFF" d="M343.3,787.7 348.8,786.9 351.9,790 348.8,792.3 344.8,790.8Z"/>
<path fill="none" stroke="#FFFFFF" stroke-width="1.6" d="M527.8,860 533.3,853.8 536.9,847.5 539.5,843.6 545,841.2 547.3,833.4 549.7,824.1 552.8,819.1 558.3,816.6"/>
<path fill="none" stroke="#FFFFFF" stroke-width="1.6" d="M591.1,807.7 597.3,804.1 602,798.8 608.3,795.6 614.5,791.7 620.8,787.8 626.2,788.1"/>
<path fill="none" stroke="#FFFFFF" stroke-width="1.3" d="M570,815.5 571.6,818.1"/>
<path fill="none" stroke="#FFFFFF" stroke-width="1.5" d="M650.5,803 658.8,804.1"/>
<path fill="#FFFFFF" d="M580.9,847.5 583.3,848.3 583.8,850.6 581.2,850.3Z"/>
<path fill="none" stroke="#FFFFFF" stroke-width="1.3" d="M422.2,845 426.1,846.6 424.5,850.5 430,851.2"/>
<path fill="none" stroke="#FFFFFF" stroke-width="1.3" d="M397.2,780.9 398.4,787.2 395.6,798.1"/>
<path fill="none" stroke="#FFFFFF" stroke-width="1.3" d="M465.9,850.5 469.8,848.1"/>
<path fill="#FFFFFF" d="M693.8,828.6 697.5,828.1 698,830.6 694.1,830.9Z"/>
<path fill="none" stroke="#FFFFFF" stroke-width="1.2" d="M796.4,837.2 797.2,845 803.4,852.8 801.1,858.3"/>
<path fill="none" stroke="#FFFFFF" stroke-width="1.0" d="M823.8,848.1 820.6,857.5"/>
<path fill="none" stroke="#FFFFFF" stroke-width="1.3" d="M614.5,671.9 617.7,673.1"/>
<path fill="none" stroke="#FFFFFF" stroke-width="1.5" d="M620,673.1 625.5,675"/>
<path fill="none" stroke="#FFFFFF" stroke-width="1.3" d="M661.4,659.4 668.4,659.1"/>
<path fill="none" stroke="#FFFFFF" stroke-width="0.9" d="M442.5,587.2 450.3,585.3 461.2,587.5 467.5,590.3"/>
<path fill="none" stroke="#FFFFFF" stroke-width="0.9" d="M473.8,593.4 480,596.6 484.7,598.9"/>
<path fill="none" stroke="#FFFFFF" stroke-width="1.0" d="M490.2,598.1 498.8,601.2 508.1,607.5 517.5,614.5 526.9,619.2"/>
<path fill="none" stroke="#FFFFFF" stroke-width="0.9" d="M477.7,624.7 483.1,627.8 489.4,631.7"/>
<path fill="none" stroke="#FFFFFF" stroke-width="0.9" d="M419.1,616.6 431.6,615 440.2,614.1"/>
<path fill="none" stroke="#FFFFFF" stroke-width="1.0" d="M440.2,658.8 445.6,658.3"/>
<path fill="none" stroke="#FFFFFF" stroke-width="0.9" d="M465.2,651.6 471.4,650.5"/>
<path fill="none" stroke="#FFFFFF" stroke-width="1.2" d="M374.2,610.5 382.8,607.8 385.9,608.4"/>
<path fill="none" stroke="#FFFFFF" stroke-width="1.2" d="M573.9,603.9 580.2,600"/>
<path fill="none" stroke="#FFFFFF" stroke-width="1.2" d="M595,600.8 602,601.9"/>
<path fill="none" stroke="#FFFFFF" stroke-width="1.4" d="M609.1,611.7 615.3,610.2 621.6,613.3 625.5,616.4"/>
<path fill="none" stroke="#FFFFFF" stroke-width="1.2" d="M608.8,612.2 617.5,609.8 625,614.8"/>
<path fill="none" stroke="#FFFFFF" stroke-width="1.0" d="M598.1,644.5 604.4,645.3"/>
<path fill="#FF9F00" d="M714.1,181.6 713.2,184.8 716.9,187.2 723,191.4 725.4,188.1 728.2,184.8 731.5,182.8 727.5,173.7 723.5,175 716.9,175.9 711.3,177.3Z"/>
<path fill="#FF7200" d="M732.9,182 736.3,179.9 732.9,172.2 729.1,173.1 727.5,173.7 731.5,182.8Z"/>
<path fill="#FF4600" d="M737.5,179.2 739.5,178.2 736.4,171 734.7,171.7 732.9,172.2 736.3,179.9Z"/>
<path fill="#FF1600" d="M742.2,176.9 742.4,176.8 739.3,169.8 736.4,171 739.5,178.2Z"/>
<path fill="#E80000" d="M746.9,174.5 751.6,173.1 756.3,172.4 756.3,171.6 753.5,171.1 750.7,168.9 753,165.8 751.6,165.6 750.7,166.7 746,167.5 740.4,169.4 739.3,169.8 742.4,176.8Z"/>
<path fill="#FFCC00" d="M714.1,181.7 721.6,182.8 727.7,184.6 725.8,187.4 719.7,186 713.4,184.8Z"/>
<path fill="#FFF800" d="M713.4,184.8 719.7,186 725.8,187.4 723,191.7 716.9,187.2Z"/>
<path fill="#E80000" d="M760,171.2 766.6,170.9 765.7,172.2 762.9,174.1 760.5,174.8Z"/>
<path fill="none" stroke="#FFFFFF" stroke-width="0.9" d="M766.6,171.2 776,170.9"/>
<path fill="none" stroke="#FFF800" stroke-width="0.9" d="M751.6,167 753.7,165.2 755.2,162.8"/>
<path fill="#FFF800" d="M708,182.5 711.1,179.9 714.1,181.7 713.4,184.8 716.9,187.2 723,191.4 721.6,192.3 714.1,188.1 709.9,184.8Z"/>
<path fill="#FFF800" d="M727.2,202.6 730,202 731.9,203.6 730,204.8 727.7,204Z"/>
<path fill="none" stroke="#FFF800" stroke-width="1.0" d="M709.9,177.8 709,175.5 705.7,174.1"/>
<path fill="none" stroke="#FFCC00" stroke-width="1.2" d="M649.7,202.2 657.5,198.3"/>
<path fill="none" stroke="#FFCC00" stroke-width="1.4" d="M671.6,193.6 673.9,188.1 675.5,183.4"/>
<path fill="none" stroke="#FFCC00" stroke-width="1.0" d="M673.9,189.7 678.6,192 682.5,188.9 685.6,190.5"/>
<path fill="none" stroke="#FFF800" stroke-width="1.0" d="M687.2,189.7 693.4,186.2 701.2,183.8"/>
<path fill="#FFFFFF" d="M704,183h1v1h-1zM692,187h1v1h-1zM711,178h1v1h-1zM701,183h1v1h-1zM710,179h1v1h-1zM673,191h1v1h-1zM651,200h1v1h-1zM651,203h1v1h-1zM660,197h1v1h-1zM666,195h1v1h-1zM661,198h1v1h-1zM659,199h1v1h-1zM681,190h1v1h-1zM688,189h1v1h-1zM675,189h1v1h-1zM689,190h1v1h-1zM693,187h1v1h-1zM655,200h1v1h-1zM654,200h1v1h-1zM708,178h1v1h-1zM674,189h1v1h-1zM655,199h1v1h-1zM686,190h1v1h-1zM712,179h1v1h-1zM656,199h1v1h-1zM681,190h1v1h-1zM706,180h1v1h-1zM710,178h1v1h-1zM656,199h1v1h-1zM708,178h1v1h-1zM676,190h1v1h-1zM710,178h1v1h-1zM704,181h1v1h-1zM675,188h1v1h-1zM678,191h1v1h-1zM683,192h1v1h-1zM664,197h1v1h-1zM710,178h1v1h-1z"/>
<path fill="#FFCC00" d="M707,182h1v1h-1zM666,196h1v1h-1zM677,189h1v1h-1zM708,180h1v1h-1zM662,197h1v1h-1zM703,183h1v1h-1zM709,178h1v1h-1zM650,201h1v1h-1zM673,189h1v1h-1zM709,178h1v1h-1zM707,179h1v1h-1zM706,183h1v1h-1zM660,198h1v1h-1zM688,187h1v1h-1z"/>
<path fill="#FFFFFF" d="M781,183h1v1h-1zM801,177h1v1h-1zM793,180h1v1h-1zM742,204h1v1h-1zM802,176h1v1h-1zM768,185h1v1h-1zM770,187h1v1h-1zM749,199h1v1h-1zM753,195h1v1h-1zM737,205h1v1h-1zM752,196h1v1h-1zM766,186h1v1h-1zM743,202h1v1h-1zM748,199h1v1h-1zM784,182h1v1h-1zM798,179h1v1h-1zM784,183h1v1h-1zM790,181h1v1h-1zM739,204h1v1h-1zM741,203h1v1h-1zM815,171h1v1h-1zM767,186h1v1h-1zM752,196h1v1h-1zM772,187h1v1h-1zM783,183h1v1h-1zM741,203h1v1h-1zM779,184h1v1h-1zM746,200h1v1h-1zM793,180h1v1h-1zM806,175h1v1h-1zM794,180h1v1h-1zM752,196h1v1h-1zM781,183h1v1h-1zM744,201h1v1h-1zM750,198h1v1h-1zM816,171h1v1h-1zM787,183h1v1h-1zM773,187h1v1h-1zM763,188h1v1h-1zM784,182h1v1h-1z"/>
<path fill="#FFFFFF" d="M736,183h1v1h-1zM725,190h1v1h-1zM725,194h1v1h-1zM725,192h1v1h-1zM728,201h1v1h-1zM731,185h1v1h-1zM729,202h1v1h-1zM749,175h1v1h-1zM737,182h1v1h-1zM727,189h1v1h-1zM727,188h1v1h-1zM725,190h1v1h-1zM734,184h1v1h-1zM750,175h1v1h-1zM748,176h1v1h-1zM732,204h1v1h-1zM731,202h1v1h-1zM745,178h1v1h-1zM744,179h1v1h-1zM737,182h1v1h-1zM746,177h1v1h-1zM729,187h1v1h-1zM724,193h1v1h-1zM726,200h1v1h-1zM725,195h1v1h-1zM725,196h1v1h-1zM746,177h1v1h-1zM739,180h1v1h-1z"/>
<path fill="#FFFFFF" d="M744,192h1v1h-1zM746,193h1v1h-1zM747,192h1v1h-1zM761,187h1v1h-1zM763,186h1v1h-1zM774,179h1v1h-1zM790,164h1v1h-1zM795,164h1v1h-1zM800,165h1v1h-1zM808,165h1v1h-1zM812,166h1v1h-1zM820,165h1v1h-1zM824,166h1v1h-1z"/>
<path fill="#DAFF28" d="M762,187h1v1h-1zM766,186h1v1h-1z"/>
<path fill="#FFFFFF" d="M659,165h1v1h-1zM661,167h1v1h-1zM673,164h1v1h-1zM697,165h1v1h-1zM699,166h1v1h-1zM643,198h1v1h-1z"/>
<path fill="#FF4600" d="M642.5,241.9 647.5,240.6 649,246.5 645,245.6 641.9,243.8Z"/>
<path fill="#FF7200" d="M647.5,240.6 652.5,240.6 653.1,247.2 649,246.5Z"/>
<path fill="#FF9F00" d="M652.5,240.6 655.2,241.9 658.1,245.6 656.2,247.5 653.1,247.2Z"/>
<path fill="#FFF800" d="M655.2,240.6 660,241.2 663.1,245 661.2,248.1 658.1,245.6Z"/>
<path fill="#FFCC00" d="M649.4,233.5 652.5,233 653.5,235.6 653.1,237.5 649.4,237.5Z"/>
<path fill="none" stroke="#FFFFFF" stroke-width="1.0" d="M649,232.9 652.5,232.2 654.5,235.6 654.5,240.2 647.5,240.2"/>
<path fill="none" stroke="#FFFFFF" stroke-width="1.0" d="M638.8,246.5 647.5,247.5 653.8,247.8"/>
<path fill="none" stroke="#2AFFD5" stroke-width="1.0" d="M628.1,243.1 629.4,239.8"/>
<path fill="none" stroke="#2AFFD5" stroke-width="1.0" d="M630.6,243.1 631.9,239.8"/>
<path fill="none" stroke="#2AFFD5" stroke-width="1.0" d="M638.1,243.8 640,240.6"/>
<path fill="#FF7200" d="M585,254.8 591.1,253.9 590.6,249.9 590,250 585,251.9 583.1,254Z"/>
<path fill="#FF9F00" d="M592.5,253.8 601.2,252.9 601.9,252.8 601.2,247.7 597.5,248.1 590.6,249.9 591.1,253.9Z"/>
<path fill="#FFCC00" d="M607.5,252.2 609.6,251.2 609,246.9 605,247.2 601.2,247.7 601.9,252.8Z"/>
<path fill="#DAFF28" d="M611.2,250.4 613.1,250.1 612.6,246.6 609,246.9 609.6,251.2Z"/>
<path fill="#AAFF55" d="M615,249.8 616.7,249.8 616.2,246.2 613.8,246.5 612.6,246.6 613.1,250.1Z"/>
<path fill="#7FFF7F" d="M619.4,249.8 620,245.6 616.2,246.2 616.7,249.8Z"/>
<path fill="none" stroke="#FFFFFF" stroke-width="0.8" d="M578.8,259.8 581.9,256.5 585,254.6"/>
<path fill="#FFF800" d="M579,234h1v1h-1zM579,241h1v1h-1zM580,245h1v1h-1zM580,248h1v1h-1zM580,250h1v1h-1zM581,252h1v1h-1z"/>
<path fill="#7FFF7F" d="M553.1,285 556.9,286.9 561.2,288.1 559.8,292.2 556.2,292.8 554,289.4Z"/>
<path fill="none" stroke="#FFCC00" stroke-width="1.2" d="M553.5,285.6 550.6,281.9 549,278.8 551.9,275.6 555.6,273.1"/>
<path fill="none" stroke="#FF9F00" stroke-width="1.0" d="M557.5,285 561.2,283.1 565,283.1"/>
<path fill="none" stroke="#FFCC00" stroke-width="1.0" d="M562.5,288.1 565,285.6 569.4,281.2 573.1,278.8 576.2,275"/>
<path fill="#DAFF28" d="M537.5,323.1 541.9,322.5 543.1,317.5 546.2,312.5 546.9,308.8 543.8,303.8 540.6,301.2 538.1,297.5 536.9,292.5 535.6,288.8 537.5,285 540.2,281.9 541.5,279.4 539.4,278.8 536.2,283.1 533.1,286.2 531.2,292.5 531.9,297.5 533.1,302.5 535.6,307.5 536.2,312.5 535,317.5 535.6,321.2Z"/>
<path fill="#FFF800" d="M539.8,305.2 543.1,304.4 546.5,308.8 546,312.5 543.1,314 540.2,311.2Z"/>
<path fill="#7FFF7F" d="M535.2,321 541.9,321.9 542.2,327.5 537.5,328.5 535.6,325Z"/>
<path fill="none" stroke="#AAFF55" stroke-width="1.2" d="M534.4,288.1 536.2,284.4 539.8,281.2"/>
<path fill="none" stroke="#DAFF28" stroke-width="1.0" d="M535.6,308.1 530,303.8 525,303.1 521.2,300 517.5,301.2 518.8,296.9"/>
<path fill="none" stroke="#DAFF28" stroke-width="1.0" d="M535,315 528.8,312.5 524.4,309.4"/>
<path fill="none" stroke="#DAFF28" stroke-width="1.0" d="M536.2,325 530,324.4 525,323.1 517.5,320.6"/>
<path fill="none" stroke="#DAFF28" stroke-width="1.0" d="M536.2,318.8 531.2,317.8 526.2,316.9"/>
<path fill="none" stroke="#FFFFFF" stroke-width="0.8" d="M518.8,296.5 516.9,300 521.2,300.6"/>
<path fill="none" stroke="#FFFFFF" stroke-width="0.8" d="M523.8,309 528.1,313.1"/>
<path fill="none" stroke="#FFFFFF" stroke-width="0.8" d="M525.6,317.5 531.2,322.5"/>
<path fill="none" stroke="#FFF800" stroke-width="1.0" d="M541.2,330 543.1,335 543.8,340"/>
<path fill="#FFF800" d="M527.5,343.4 535.3,343.4 543.1,342.7 547.8,349.7 550.2,356.7 546.2,359.1 540,359.8 533.8,357.5 530.6,351.2 527.5,348.1Z"/>
<path fill="#DAFF28" d="M529.1,359.1 541.6,360.3 536.9,364.5 532.2,365.6 529.4,362.2Z"/>
<path fill="#FF9F00" d="M535.3,353.1 540,352.8 540.3,356.7 536.1,357.2Z"/>
<path fill="#D3D3D3" d="M531.4,347.3 536.1,346.6 540,348.1 537.7,351.2 533,351.2Z"/>
<path fill="none" stroke="#FFF800" stroke-width="1.2" d="M540,324.7 542.3,333.3 545,341.9"/>
<path fill="none" stroke="#FFF800" stroke-width="1.0" d="M527.5,345 522.8,343.4 525.2,337.2"/>
<path fill="none" stroke="#FFF800" stroke-width="1.0" d="M529.8,359.8 524.4,358.3 520.5,356.2"/>
<path fill="none" stroke="#FFFFFF" stroke-width="0.8" d="M543.4,333.3 551.2,356.9 533.8,368.8 527.5,371.6"/>
<path fill="#8B0000" d="M442.2,511.3 447.5,509.6 452.7,511.3 456.3,508.7 459.8,510.4 463.3,514 465.5,519.2 465.2,524.5 463.5,530.7 460.7,535.1 456.3,536.8 451.9,535.5 447.5,535.1 442.2,534.2 436.9,532.4 434.3,528.9 433.4,523.6 434.3,520.1 438.7,519.2 442.2,516.6Z"/>
<path fill="#8B0000" d="M445.3,477.9 447.9,479.7 451,487.6 454.5,495.5 458,502.5 461.5,509.6 464.9,517.9 461.5,515.7 458,510.4 454.9,507.8 451.9,499.9 449.2,492.9 446.6,485.8 444.4,480.5Z"/>
<path fill="none" stroke="#C9A0A0" stroke-width="0.7" d="M446.2,515.3 451.0,511.3 454.9,515.3 451.9,519.7Z"/>
<path fill="#D3D3D3" d="M463,524h1v1h-1zM459,523h1v1h-1zM455,528h1v1h-1zM443,515h1v1h-1zM447,527h1v1h-1zM456,513h1v1h-1zM443,515h1v1h-1zM452,518h1v1h-1zM452,513h1v1h-1zM463,518h1v1h-1zM446,527h1v1h-1zM441,524h1v1h-1zM437,522h1v1h-1zM457,521h1v1h-1zM455,512h1v1h-1zM464,523h1v1h-1zM443,518h1v1h-1zM458,523h1v1h-1zM449,533h1v1h-1zM453,524h1v1h-1zM461,515h1v1h-1zM453,536h1v1h-1zM455,510h1v1h-1zM444,521h1v1h-1zM442,530h1v1h-1zM440,531h1v1h-1zM452,511h1v1h-1zM451,531h1v1h-1zM453,522h1v1h-1zM435,523h1v1h-1zM437,527h1v1h-1zM438,525h1v1h-1zM445,519h1v1h-1zM455,513h1v1h-1zM444,532h1v1h-1zM461,522h1v1h-1zM450,524h1v1h-1zM438,522h1v1h-1zM439,524h1v1h-1zM450,519h1v1h-1zM440,520h1v1h-1zM441,533h1v1h-1zM450,534h1v1h-1zM449,531h1v1h-1zM452,528h1v1h-1zM441,530h1v1h-1zM439,516h1v1h-1zM435,520h1v1h-1zM450,517h1v1h-1zM452,515h1v1h-1zM453,531h1v1h-1zM456,510h1v1h-1zM442,526h1v1h-1zM453,528h1v1h-1zM460,518h1v1h-1z"/>
<path fill="#FFFFFF" d="M459,522h1v1h-1zM464,520h1v1h-1zM447,511h1v1h-1zM442,529h1v1h-1zM455,513h1v1h-1zM445,513h1v1h-1zM440,515h1v1h-1zM449,523h1v1h-1zM459,534h1v1h-1zM458,527h1v1h-1z"/>
<path fill="#D3D3D3" d="M450,486h1v1h-1zM459,506h1v1h-1zM458,510h1v1h-1zM449,489h1v1h-1zM453,498h1v1h-1zM450,492h1v1h-1zM456,505h1v1h-1zM459,506h1v1h-1zM451,493h1v1h-1zM449,490h1v1h-1zM452,495h1v1h-1zM453,493h1v1h-1zM458,509h1v1h-1zM456,505h1v1h-1z"/>
<path fill="#8B0000" d="M439,512h1v1h-1zM434,520h1v1h-1zM436,512h1v1h-1zM437,512h1v1h-1zM440,515h1v1h-1zM434,520h1v1h-1zM433,512h1v1h-1zM430,515h1v1h-1zM439,517h1v1h-1zM434,518h1v1h-1zM430,512h1v1h-1zM437,517h1v1h-1zM439,513h1v1h-1zM434,513h1v1h-1zM440,513h1v1h-1zM431,519h1v1h-1zM436,515h1v1h-1zM431,513h1v1h-1zM430,514h1v1h-1zM436,519h1v1h-1zM438,516h1v1h-1zM434,515h1v1h-1zM433,519h1v1h-1zM431,517h1v1h-1zM439,515h1v1h-1zM431,517h1v1h-1zM438,516h1v1h-1zM437,518h1v1h-1zM433,511h1v1h-1zM440,513h1v1h-1zM438,510h1v1h-1zM440,513h1v1h-1zM429,516h1v1h-1zM431,512h1v1h-1zM430,514h1v1h-1zM436,518h1v1h-1zM430,519h1v1h-1zM430,511h1v1h-1zM437,513h1v1h-1zM433,515h1v1h-1z"/>
<path fill="#8B0000" d="M447,477h1v1h-1zM445,480h1v1h-1zM444,475h1v1h-1zM443,478h1v1h-1zM443,472h1v1h-1zM443,479h1v1h-1zM446,476h1v1h-1zM441,473h1v1h-1zM442,474h1v1h-1zM443,476h1v1h-1zM439,474h1v1h-1zM444,479h1v1h-1zM449,482h1v1h-1zM446,479h1v1h-1zM438,473h1v1h-1zM446,478h1v1h-1z"/>
<path fill="#8B0000" d="M423,509h1v1h-1zM420,506h1v1h-1zM430,511h1v1h-1zM421,505h1v1h-1zM431,516h1v1h-1zM426,516h1v1h-1zM421,505h1v1h-1zM427,511h1v1h-1zM422,507h1v1h-1zM429,518h1v1h-1zM429,509h1v1h-1zM430,517h1v1h-1zM430,516h1v1h-1zM431,512h1v1h-1zM420,509h1v1h-1zM428,517h1v1h-1zM426,514h1v1h-1zM422,507h1v1h-1zM421,507h1v1h-1zM425,513h1v1h-1zM428,515h1v1h-1zM426,510h1v1h-1zM428,515h1v1h-1zM428,511h1v1h-1zM422,510h1v1h-1zM430,516h1v1h-1zM428,515h1v1h-1zM420,505h1v1h-1zM420,504h1v1h-1zM432,514h1v1h-1zM421,512h1v1h-1zM431,518h1v1h-1zM427,516h1v1h-1zM426,513h1v1h-1zM427,516h1v1h-1zM420,504h1v1h-1zM427,508h1v1h-1zM430,516h1v1h-1zM432,512h1v1h-1zM429,517h1v1h-1zM424,508h1v1h-1zM427,519h1v1h-1zM420,505h1v1h-1zM428,513h1v1h-1zM426,511h1v1h-1z"/>
<path fill="#8B0000" d="M420,494h1v1h-1zM419,495h1v1h-1zM422,498h1v1h-1zM420,497h1v1h-1zM416,489h1v1h-1zM419,491h1v1h-1zM420,493h1v1h-1zM417,490h1v1h-1zM417,491h1v1h-1zM413,472h1v1h-1zM409,470h1v1h-1zM414,474h1v1h-1zM418,488h1v1h-1zM418,487h1v1h-1zM411,472h1v1h-1zM416,473h1v1h-1zM418,484h1v1h-1zM418,495h1v1h-1zM412,471h1v1h-1zM415,473h1v1h-1zM415,491h1v1h-1zM416,475h1v1h-1zM422,499h1v1h-1zM415,479h1v1h-1zM414,474h1v1h-1zM411,470h1v1h-1zM418,485h1v1h-1zM417,489h1v1h-1zM411,471h1v1h-1zM415,474h1v1h-1zM418,476h1v1h-1zM417,491h1v1h-1zM416,487h1v1h-1zM417,484h1v1h-1zM418,496h1v1h-1zM410,471h1v1h-1zM418,485h1v1h-1zM418,488h1v1h-1zM421,497h1v1h-1zM417,475h1v1h-1zM416,490h1v1h-1zM418,484h1v1h-1zM419,494h1v1h-1zM419,491h1v1h-1zM418,493h1v1h-1zM415,475h1v1h-1zM416,471h1v1h-1zM420,495h1v1h-1zM418,489h1v1h-1zM421,496h1v1h-1zM417,476h1v1h-1zM409,470h1v1h-1zM415,478h1v1h-1zM418,491h1v1h-1zM416,476h1v1h-1zM421,494h1v1h-1zM421,494h1v1h-1zM412,473h1v1h-1zM418,487h1v1h-1zM417,473h1v1h-1z"/>
<path fill="#FF1600" d="M448.8,536.2 456.6,536.2 457.5,540.6 455.3,546.4 450.6,545 448.1,540.2Z"/>
<path fill="#FF9F00" d="M444.8,537.2 448.8,536.7 448.8,541.4 450.6,545.3 447.2,545.6 444.1,540.6Z"/>
<path fill="#FFF800" d="M441.7,537.5 444.8,537.2 444.4,541.4 447.5,546.1 446.4,547.7 442.5,543.8Z"/>
<path fill="none" stroke="#FFFFFF" stroke-width="0.9" d="M444.1,546.1 448.8,548.4 455,548.1 459.7,544.5 462.5,539.8"/>
<path fill="none" stroke="#FFFFFF" stroke-width="1.0" d="M440.2,490.6 442.5,495.3 444.1,500"/>
<path fill="none" stroke="#FFFFFF" stroke-width="1.0" d="M431.6,481.2 434.7,483.6"/>
<path fill="#FFFFFF" d="M440.9,506.2 442.8,505.9 443.1,508.6 441.2,509.1Z"/>
<path fill="#8B0000" d="M414,467h1v1h-1zM414,467h1v1h-1zM405,461h1v1h-1zM412,464h1v1h-1zM419,484h1v1h-1zM411,466h1v1h-1zM412,470h1v1h-1zM415,475h1v1h-1zM411,467h1v1h-1zM414,466h1v1h-1zM419,486h1v1h-1zM408,461h1v1h-1zM420,485h1v1h-1zM414,468h1v1h-1zM416,472h1v1h-1zM405,462h1v1h-1zM410,469h1v1h-1zM418,485h1v1h-1zM413,468h1v1h-1zM409,467h1v1h-1zM409,465h1v1h-1zM418,476h1v1h-1zM417,483h1v1h-1zM410,463h1v1h-1zM418,481h1v1h-1zM414,471h1v1h-1zM412,469h1v1h-1zM417,483h1v1h-1zM419,481h1v1h-1zM408,463h1v1h-1zM409,461h1v1h-1zM405,462h1v1h-1zM417,486h1v1h-1zM418,480h1v1h-1zM419,479h1v1h-1zM410,463h1v1h-1zM416,470h1v1h-1zM418,487h1v1h-1zM418,475h1v1h-1zM418,486h1v1h-1zM413,464h1v1h-1zM411,463h1v1h-1zM412,465h1v1h-1zM405,462h1v1h-1zM417,479h1v1h-1z"/>
<path fill="#8B0000" d="M393,455h1v1h-1zM395,457h1v1h-1zM394,453h1v1h-1zM394,455h1v1h-1zM397,454h1v1h-1zM394,454h1v1h-1zM393,453h1v1h-1zM395,455h1v1h-1zM394,455h1v1h-1z"/>
<path fill="#8B0000" d="M387,454h1v1h-1zM387,454h1v1h-1zM387,452h1v1h-1zM388,452h1v1h-1z"/>
<path fill="#8B0000" d="M419,494h1v1h-1zM427,519h1v1h-1zM423,502h1v1h-1zM423,502h1v1h-1zM422,510h1v1h-1zM423,501h1v1h-1zM425,511h1v1h-1zM428,519h1v1h-1zM429,514h1v1h-1zM425,511h1v1h-1zM425,504h1v1h-1zM419,495h1v1h-1zM424,506h1v1h-1zM422,507h1v1h-1zM424,502h1v1h-1zM422,509h1v1h-1zM422,503h1v1h-1zM425,500h1v1h-1zM419,499h1v1h-1zM428,512h1v1h-1zM430,519h1v1h-1zM423,498h1v1h-1z"/>
<path fill="#8B0000" d="M439,435h1v1h-1zM432,434h1v1h-1zM435,428h1v1h-1zM439,422h1v1h-1zM434,438h1v1h-1zM435,439h1v1h-1zM437,430h1v1h-1zM441,434h1v1h-1zM434,428h1v1h-1zM441,433h1v1h-1zM435,437h1v1h-1zM440,432h1v1h-1zM435,436h1v1h-1zM437,438h1v1h-1zM435,444h1v1h-1zM438,426h1v1h-1zM435,425h1v1h-1zM434,438h1v1h-1zM433,434h1v1h-1zM432,441h1v1h-1zM436,425h1v1h-1zM442,420h1v1h-1zM432,439h1v1h-1zM437,443h1v1h-1zM437,429h1v1h-1zM442,420h1v1h-1zM440,420h1v1h-1zM441,430h1v1h-1zM439,424h1v1h-1zM439,435h1v1h-1zM431,431h1v1h-1zM439,423h1v1h-1zM438,425h1v1h-1zM435,443h1v1h-1zM435,433h1v1h-1zM440,439h1v1h-1zM436,441h1v1h-1zM435,444h1v1h-1zM439,421h1v1h-1zM439,421h1v1h-1z"/>
<path fill="#8B0000" d="M458,407h1v1h-1zM449,415h1v1h-1zM443,409h1v1h-1zM454,409h1v1h-1zM451,417h1v1h-1zM463,402h1v1h-1zM447,409h1v1h-1zM462,405h1v1h-1zM465,404h1v1h-1zM458,410h1v1h-1zM461,404h1v1h-1zM454,415h1v1h-1zM447,413h1v1h-1zM456,408h1v1h-1zM454,409h1v1h-1zM449,407h1v1h-1zM456,414h1v1h-1zM457,403h1v1h-1zM465,407h1v1h-1zM446,411h1v1h-1zM456,406h1v1h-1zM446,405h1v1h-1z"/>
<path fill="#8B0000" d="M442,473h1v1h-1zM442,472h1v1h-1zM438,474h1v1h-1zM441,464h1v1h-1zM440,462h1v1h-1zM446,475h1v1h-1zM443,481h1v1h-1zM442,479h1v1h-1zM440,467h1v1h-1zM436,463h1v1h-1zM438,475h1v1h-1zM444,472h1v1h-1zM436,463h1v1h-1zM434,463h1v1h-1zM442,478h1v1h-1zM441,473h1v1h-1zM439,472h1v1h-1zM439,465h1v1h-1zM438,467h1v1h-1zM443,479h1v1h-1zM439,471h1v1h-1zM439,467h1v1h-1z"/>
<path fill="#8B0000" d="M435,516h1v1h-1zM433,522h1v1h-1zM432,520h1v1h-1zM439,518h1v1h-1zM434,517h1v1h-1zM439,514h1v1h-1zM436,523h1v1h-1zM432,520h1v1h-1zM433,520h1v1h-1zM439,519h1v1h-1zM440,515h1v1h-1zM439,524h1v1h-1zM440,512h1v1h-1zM438,524h1v1h-1zM435,524h1v1h-1zM436,524h1v1h-1zM435,529h1v1h-1zM436,523h1v1h-1zM435,527h1v1h-1zM442,516h1v1h-1zM434,520h1v1h-1zM437,516h1v1h-1zM436,520h1v1h-1zM438,514h1v1h-1zM435,520h1v1h-1z"/>
<path fill="#D3D3D3" d="M450,520h1v1h-1zM454,514h1v1h-1zM450,516h1v1h-1zM458,527h1v1h-1zM458,522h1v1h-1zM442,533h1v1h-1zM450,519h1v1h-1zM443,519h1v1h-1zM456,530h1v1h-1zM449,528h1v1h-1zM441,521h1v1h-1zM445,517h1v1h-1zM445,528h1v1h-1zM442,529h1v1h-1zM454,526h1v1h-1zM454,527h1v1h-1zM463,522h1v1h-1zM455,534h1v1h-1zM458,528h1v1h-1zM449,519h1v1h-1zM443,522h1v1h-1zM456,532h1v1h-1zM460,531h1v1h-1zM448,520h1v1h-1zM444,534h1v1h-1zM443,532h1v1h-1zM460,518h1v1h-1zM460,532h1v1h-1zM447,514h1v1h-1zM458,519h1v1h-1zM438,532h1v1h-1zM448,519h1v1h-1zM452,516h1v1h-1zM446,528h1v1h-1zM445,526h1v1h-1zM453,514h1v1h-1zM453,517h1v1h-1zM441,531h1v1h-1zM452,524h1v1h-1zM444,525h1v1h-1z"/>
<path fill="none" stroke="#FF9F00" stroke-width="0.9" d="M433.1,448.4 437,446.9 438.1,451.6"/>
<path fill="none" stroke="#FFCC00" stroke-width="0.9" d="M438.6,429.7 438.1,437.5 435.5,445.3"/>
<path fill="none" stroke="#FFCC00" stroke-width="0.9" d="M437.8,451.6 437,459.4 440.2,468.8"/>
<path fill="none" stroke="#FFCC00" stroke-width="0.9" d="M448.8,421.9 455,415.6 464.4,408.6 473.8,402.3"/>
<path fill="none" stroke="#50FFAC" stroke-width="1.0" d="M415.6,497.7 419.1,495.3 418.3,500"/>
<path fill="none" stroke="#FFFFFF" stroke-width="0.8" d="M414.7,500 416.7,504.4 420.9,510.2"/>
<path fill="none" stroke="#7FFF7F" stroke-width="1.0" d="M425.6,516.4 426.9,521.1"/>
<path fill="#8B0000" d="M550,297h1v1h-1zM541,288h1v1h-1zM545,294h1v1h-1zM546,307h1v1h-1zM543,306h1v1h-1zM543,299h1v1h-1zM546,284h1v1h-1zM554,305h1v1h-1zM544,304h1v1h-1zM548,310h1v1h-1zM540,293h1v1h-1zM543,300h1v1h-1zM554,306h1v1h-1zM549,293h1v1h-1zM544,303h1v1h-1zM547,310h1v1h-1zM541,295h1v1h-1zM541,285h1v1h-1zM546,294h1v1h-1zM549,290h1v1h-1zM552,297h1v1h-1zM549,296h1v1h-1zM546,306h1v1h-1zM543,307h1v1h-1zM546,292h1v1h-1zM551,298h1v1h-1zM544,285h1v1h-1zM541,301h1v1h-1zM549,292h1v1h-1zM545,306h1v1h-1zM545,294h1v1h-1zM547,287h1v1h-1zM552,301h1v1h-1zM547,294h1v1h-1zM543,304h1v1h-1zM548,305h1v1h-1zM546,303h1v1h-1zM539,289h1v1h-1z"/>
<path fill="#8B0000" d="M536,332h1v1h-1zM532,328h1v1h-1zM527,335h1v1h-1zM536,329h1v1h-1zM535,327h1v1h-1zM534,328h1v1h-1zM533,330h1v1h-1zM533,327h1v1h-1zM532,334h1v1h-1zM526,330h1v1h-1zM536,333h1v1h-1zM535,337h1v1h-1zM534,328h1v1h-1zM531,337h1v1h-1zM534,336h1v1h-1zM530,332h1v1h-1zM535,327h1v1h-1zM540,340h1v1h-1zM536,329h1v1h-1zM538,333h1v1h-1zM524,338h1v1h-1zM531,337h1v1h-1z"/>
<path fill="#8B0000" d="M536,287h1v1h-1zM534,284h1v1h-1zM529,289h1v1h-1zM535,289h1v1h-1zM535,287h1v1h-1zM536,285h1v1h-1zM529,306h1v1h-1zM530,301h1v1h-1z"/>
<path fill="#8B0000" d="M569,261h1v1h-1zM565,277h1v1h-1zM556,273h1v1h-1zM552,276h1v1h-1zM552,279h1v1h-1z"/>
<path fill="#FF9F00" d="M557,273h1v1h-1zM549,278h1v1h-1zM550,281h1v1h-1zM559,283h1v1h-1zM565,284h1v1h-1zM562,287h1v1h-1zM569,280h1v1h-1zM570,281h1v1h-1z"/>
<path fill="#8B0000" d="M537,331h1v1h-1zM534,334h1v1h-1zM525,330h1v1h-1zM539,333h1v1h-1zM531,336h1v1h-1zM535,343h1v1h-1zM528,330h1v1h-1zM528,340h1v1h-1zM534,334h1v1h-1zM531,329h1v1h-1zM538,335h1v1h-1zM531,341h1v1h-1zM525,340h1v1h-1zM528,341h1v1h-1zM533,335h1v1h-1zM528,337h1v1h-1zM525,334h1v1h-1zM526,342h1v1h-1zM532,338h1v1h-1zM533,329h1v1h-1zM536,332h1v1h-1zM537,341h1v1h-1zM534,342h1v1h-1zM529,339h1v1h-1zM539,330h1v1h-1zM523,334h1v1h-1zM531,329h1v1h-1zM529,329h1v1h-1z"/>
<path fill="#8B0000" d="M516,360h1v1h-1zM516,358h1v1h-1zM524,357h1v1h-1zM523,367h1v1h-1zM529,360h1v1h-1zM524,351h1v1h-1zM529,353h1v1h-1zM528,351h1v1h-1zM524,362h1v1h-1zM520,358h1v1h-1zM527,349h1v1h-1zM524,364h1v1h-1zM517,347h1v1h-1zM517,347h1v1h-1zM523,352h1v1h-1zM518,357h1v1h-1zM520,366h1v1h-1zM528,348h1v1h-1zM519,348h1v1h-1zM527,366h1v1h-1zM521,370h1v1h-1zM520,353h1v1h-1zM523,357h1v1h-1zM521,365h1v1h-1zM530,358h1v1h-1zM516,356h1v1h-1zM531,356h1v1h-1zM526,360h1v1h-1zM522,360h1v1h-1zM517,360h1v1h-1zM520,368h1v1h-1zM526,362h1v1h-1zM530,357h1v1h-1zM515,353h1v1h-1zM527,364h1v1h-1zM516,362h1v1h-1zM526,362h1v1h-1zM519,361h1v1h-1z"/>
<path fill="#FF9F00" d="M527,354h1v1h-1zM520,352h1v1h-1zM524,347h1v1h-1zM528,355h1v1h-1zM524,353h1v1h-1zM522,337h1v1h-1zM525,353h1v1h-1zM522,338h1v1h-1zM526,345h1v1h-1zM522,348h1v1h-1z"/>
<path fill="#8B0000" d="M503,381h1v1h-1zM501,377h1v1h-1zM508,370h1v1h-1zM501,379h1v1h-1zM499,375h1v1h-1zM507,374h1v1h-1zM506,370h1v1h-1zM508,374h1v1h-1zM504,381h1v1h-1zM505,377h1v1h-1zM506,372h1v1h-1zM503,371h1v1h-1z"/>
<path fill="#FF4600" d="M503,376h1v1h-1zM504,376h1v1h-1zM502,378h1v1h-1zM504,376h1v1h-1zM501,377h1v1h-1z"/>
<path fill="#8B0000" d="M478,396h1v1h-1zM476,391h1v1h-1zM482,389h1v1h-1zM474,398h1v1h-1zM479,388h1v1h-1zM481,394h1v1h-1zM473,389h1v1h-1zM479,387h1v1h-1zM477,396h1v1h-1zM472,395h1v1h-1zM473,392h1v1h-1zM479,396h1v1h-1zM483,391h1v1h-1zM477,391h1v1h-1zM480,397h1v1h-1zM479,391h1v1h-1zM478,393h1v1h-1zM482,388h1v1h-1zM481,396h1v1h-1zM482,389h1v1h-1zM481,392h1v1h-1zM475,390h1v1h-1zM482,396h1v1h-1zM478,388h1v1h-1zM473,396h1v1h-1zM474,399h1v1h-1zM475,399h1v1h-1zM475,389h1v1h-1zM477,391h1v1h-1zM472,396h1v1h-1zM479,393h1v1h-1zM474,389h1v1h-1zM473,399h1v1h-1zM481,396h1v1h-1zM478,398h1v1h-1zM473,393h1v1h-1zM475,391h1v1h-1zM474,396h1v1h-1zM478,397h1v1h-1zM479,394h1v1h-1z"/>
<path fill="#8B0000" d="M490,383h1v1h-1zM493,383h1v1h-1zM486,383h1v1h-1zM491,386h1v1h-1zM489,384h1v1h-1zM492,383h1v1h-1zM486,385h1v1h-1zM492,382h1v1h-1z"/>
<path fill="#8B0000" d="M455,402h1v1h-1zM454,415h1v1h-1zM453,416h1v1h-1zM464,409h1v1h-1zM455,404h1v1h-1zM460,407h1v1h-1zM450,410h1v1h-1zM453,416h1v1h-1zM457,403h1v1h-1zM455,404h1v1h-1zM443,413h1v1h-1zM444,409h1v1h-1zM449,418h1v1h-1zM448,409h1v1h-1zM450,408h1v1h-1zM454,408h1v1h-1zM459,406h1v1h-1zM460,408h1v1h-1zM467,395h1v1h-1zM447,412h1v1h-1zM457,410h1v1h-1zM450,409h1v1h-1zM470,400h1v1h-1zM456,404h1v1h-1zM451,415h1v1h-1zM445,408h1v1h-1zM445,416h1v1h-1zM452,408h1v1h-1zM469,395h1v1h-1zM462,409h1v1h-1zM444,415h1v1h-1zM447,418h1v1h-1zM465,400h1v1h-1zM440,416h1v1h-1zM466,396h1v1h-1zM471,402h1v1h-1zM450,412h1v1h-1zM448,408h1v1h-1zM444,416h1v1h-1zM468,400h1v1h-1z"/>
<path fill="#FF9F00" d="M457,414h1v1h-1zM451,415h1v1h-1zM458,410h1v1h-1zM450,410h1v1h-1zM458,412h1v1h-1zM458,409h1v1h-1zM451,411h1v1h-1zM459,409h1v1h-1zM450,415h1v1h-1zM450,414h1v1h-1z"/>
<path fill="#FFCC00" d="M479,394h1v1h-1zM478,399h1v1h-1zM480,397h1v1h-1zM482,391h1v1h-1zM480,393h1v1h-1zM479,396h1v1h-1z"/>
<path fill="#8B0000" d="M636,218h1v1h-1zM634,227h1v1h-1zM636,234h1v1h-1zM636,239h1v1h-1zM626,238h1v1h-1zM599,246h1v1h-1zM595,254h1v1h-1zM594,255h1v1h-1zM598,256h1v1h-1zM599,256h1v1h-1zM601,254h1v1h-1zM582,258h1v1h-1zM578,255h1v1h-1zM574,259h1v1h-1zM569,261h1v1h-1zM566,278h1v1h-1zM578,265h1v1h-1zM577,269h1v1h-1z"/>
<path fill="#8B0000" d="M635,218h1v1h-1zM634,227h1v1h-1zM636,235h1v1h-1zM627,238h1v1h-1zM636,240h1v1h-1zM659,197h1v1h-1zM662,196h1v1h-1zM649,202h1v1h-1z"/>
<path fill="#FFCC00" d="M240,458h1v1h-1zM214,457h1v1h-1zM224,464h1v1h-1zM209,460h1v1h-1zM241,460h1v1h-1zM208,463h1v1h-1zM234,466h1v1h-1zM231,459h1v1h-1zM225,459h1v1h-1zM222,461h1v1h-1zM242,465h1v1h-1zM242,461h1v1h-1zM242,463h1v1h-1zM240,460h1v1h-1zM239,465h1v1h-1zM223,460h1v1h-1zM234,457h1v1h-1zM219,460h1v1h-1zM243,463h1v1h-1zM218,457h1v1h-1zM205,461h1v1h-1zM228,460h1v1h-1zM218,460h1v1h-1zM228,462h1v1h-1zM221,458h1v1h-1zM216,461h1v1h-1zM227,458h1v1h-1zM205,457h1v1h-1zM241,458h1v1h-1zM236,460h1v1h-1zM226,461h1v1h-1zM231,463h1v1h-1zM238,459h1v1h-1zM205,462h1v1h-1zM231,458h1v1h-1zM204,461h1v1h-1zM204,464h1v1h-1zM229,459h1v1h-1zM222,458h1v1h-1zM211,458h1v1h-1zM238,461h1v1h-1zM233,459h1v1h-1zM237,462h1v1h-1zM231,460h1v1h-1zM227,458h1v1h-1zM225,463h1v1h-1zM207,459h1v1h-1zM203,460h1v1h-1zM240,464h1v1h-1zM233,459h1v1h-1zM213,463h1v1h-1zM227,464h1v1h-1zM226,460h1v1h-1zM236,459h1v1h-1zM226,464h1v1h-1zM236,458h1v1h-1zM214,463h1v1h-1zM235,463h1v1h-1zM222,464h1v1h-1zM231,458h1v1h-1zM226,462h1v1h-1zM234,458h1v1h-1zM216,459h1v1h-1zM207,459h1v1h-1zM234,462h1v1h-1zM210,464h1v1h-1zM209,457h1v1h-1zM213,461h1v1h-1zM235,463h1v1h-1zM227,458h1v1h-1zM243,466h1v1h-1zM203,459h1v1h-1zM216,458h1v1h-1zM204,465h1v1h-1zM216,456h1v1h-1zM241,459h1v1h-1zM212,457h1v1h-1zM218,457h1v1h-1zM210,458h1v1h-1zM227,460h1v1h-1zM216,461h1v1h-1zM236,463h1v1h-1zM237,462h1v1h-1zM223,459h1v1h-1zM229,457h1v1h-1zM242,465h1v1h-1zM204,463h1v1h-1zM213,461h1v1h-1zM238,459h1v1h-1zM224,463h1v1h-1zM211,462h1v1h-1zM211,463h1v1h-1zM204,459h1v1h-1zM208,457h1v1h-1zM225,458h1v1h-1zM237,457h1v1h-1zM229,465h1v1h-1zM208,458h1v1h-1zM235,461h1v1h-1zM241,458h1v1h-1zM236,464h1v1h-1zM228,457h1v1h-1zM236,463h1v1h-1zM216,463h1v1h-1zM215,462h1v1h-1zM204,461h1v1h-1zM232,460h1v1h-1zM245,466h1v1h-1zM233,464h1v1h-1zM242,460h1v1h-1zM228,464h1v1h-1zM214,456h1v1h-1zM204,457h1v1h-1zM212,457h1v1h-1zM241,463h1v1h-1zM228,457h1v1h-1zM203,460h1v1h-1zM239,464h1v1h-1zM204,463h1v1h-1zM224,461h1v1h-1zM209,461h1v1h-1zM237,457h1v1h-1zM240,460h1v1h-1zM214,458h1v1h-1zM222,463h1v1h-1zM225,461h1v1h-1zM203,459h1v1h-1zM216,457h1v1h-1zM221,456h1v1h-1zM242,461h1v1h-1z"/>
<path fill="#FF9F00" d="M240,463h1v1h-1zM234,464h1v1h-1zM211,462h1v1h-1zM228,464h1v1h-1zM210,459h1v1h-1zM238,464h1v1h-1zM212,457h1v1h-1zM234,464h1v1h-1zM230,464h1v1h-1zM225,462h1v1h-1zM242,463h1v1h-1zM231,462h1v1h-1zM224,464h1v1h-1zM227,457h1v1h-1zM221,460h1v1h-1zM221,462h1v1h-1zM218,460h1v1h-1zM221,460h1v1h-1zM203,463h1v1h-1zM220,461h1v1h-1zM228,460h1v1h-1zM240,466h1v1h-1zM215,461h1v1h-1zM216,456h1v1h-1zM241,465h1v1h-1zM213,458h1v1h-1zM233,464h1v1h-1zM223,460h1v1h-1zM240,465h1v1h-1zM207,462h1v1h-1zM222,457h1v1h-1zM205,464h1v1h-1zM231,461h1v1h-1zM241,466h1v1h-1zM229,457h1v1h-1zM228,460h1v1h-1zM234,457h1v1h-1zM212,459h1v1h-1zM227,459h1v1h-1zM210,463h1v1h-1zM229,457h1v1h-1zM220,462h1v1h-1zM230,459h1v1h-1zM227,457h1v1h-1zM216,462h1v1h-1zM241,461h1v1h-1zM213,462h1v1h-1zM209,458h1v1h-1zM210,458h1v1h-1zM208,458h1v1h-1zM217,460h1v1h-1zM235,460h1v1h-1zM223,460h1v1h-1zM236,465h1v1h-1zM225,463h1v1h-1zM219,459h1v1h-1zM222,461h1v1h-1zM211,458h1v1h-1zM217,463h1v1h-1zM233,460h1v1h-1z"/>
<path fill="#FFF800" d="M205,458h1v1h-1zM226,459h1v1h-1zM213,459h1v1h-1zM215,459h1v1h-1zM237,464h1v1h-1zM233,465h1v1h-1zM231,457h1v1h-1zM204,457h1v1h-1zM214,461h1v1h-1zM238,462h1v1h-1zM221,458h1v1h-1zM217,456h1v1h-1zM239,457h1v1h-1zM231,460h1v1h-1zM241,459h1v1h-1zM207,458h1v1h-1zM230,463h1v1h-1zM215,459h1v1h-1zM204,462h1v1h-1zM218,458h1v1h-1zM213,457h1v1h-1zM230,463h1v1h-1zM225,458h1v1h-1zM240,457h1v1h-1zM210,458h1v1h-1zM225,461h1v1h-1zM226,464h1v1h-1zM241,461h1v1h-1zM204,465h1v1h-1zM203,459h1v1h-1zM209,462h1v1h-1zM236,457h1v1h-1zM232,457h1v1h-1zM232,464h1v1h-1zM220,457h1v1h-1zM231,459h1v1h-1zM208,457h1v1h-1zM220,457h1v1h-1zM219,462h1v1h-1zM226,460h1v1h-1zM240,466h1v1h-1zM236,461h1v1h-1zM236,462h1v1h-1zM208,458h1v1h-1zM216,460h1v1h-1zM226,457h1v1h-1zM233,464h1v1h-1zM237,465h1v1h-1zM216,457h1v1h-1zM235,463h1v1h-1z"/>
<path fill="#DAFF28" d="M243,463h1v1h-1zM241,465h1v1h-1zM244,465h1v1h-1zM243,463h1v1h-1zM244,465h1v1h-1zM248,463h1v1h-1zM246,463h1v1h-1zM248,465h1v1h-1zM245,463h1v1h-1zM242,466h1v1h-1zM247,463h1v1h-1zM241,462h1v1h-1zM247,464h1v1h-1zM245,464h1v1h-1z"/>
<path fill="#FFFFFF" d="M232,466h1v1h-1zM237,466h1v1h-1zM209,465h1v1h-1zM241,466h1v1h-1zM236,466h1v1h-1zM206,465h1v1h-1zM216,464h1v1h-1zM242,467h1v1h-1zM227,465h1v1h-1zM244,466h1v1h-1zM208,464h1v1h-1zM208,465h1v1h-1zM245,467h1v1h-1zM234,466h1v1h-1zM223,464h1v1h-1zM204,465h1v1h-1zM240,467h1v1h-1zM239,467h1v1h-1zM203,464h1v1h-1zM217,464h1v1h-1zM205,465h1v1h-1zM243,467h1v1h-1zM203,465h1v1h-1zM246,467h1v1h-1zM244,467h1v1h-1zM234,466h1v1h-1zM204,465h1v1h-1zM210,465h1v1h-1zM240,467h1v1h-1zM218,463h1v1h-1z"/>
<path fill="#FFF800" d="M263.1,453.5 270,451.2 275,451.9 280,453.1 283.5,455 280,458.5 272.5,457.2 265,457.2Z"/>
<path fill="#DAFF28" d="M272.5,452 280,453.2 283.2,455 280,457.8 273.8,456.5Z"/>
<path fill="#FFCC00" d="M262.5,458.1 271.2,459.4 275,464.4 273.8,467.5 267.5,468.1 263.8,463.8Z"/>
<path fill="#FF7200" d="M255,464.8 265,466.2 266.9,470.2 260.6,472.8 255,469Z"/>
<path fill="#FF9F00" d="M252.5,462.8 255.6,465 255,469 258.8,471.9 255,471.2 250.6,466.2Z"/>
<path fill="#FF1600" d="M251.5,456.5 255.9,455.6 262.5,462.8 265.2,466.5 260,465.4 253.8,461.5Z"/>
<path fill="#E80000" d="M253.1,457.8 256,457.2 258.8,461 255.6,461.2Z"/>
<path fill="#FFF800" d="M276,462h1v1h-1zM274,466h1v1h-1zM282,463h1v1h-1zM284,461h1v1h-1zM270,468h1v1h-1zM270,470h1v1h-1zM281,464h1v1h-1zM270,468h1v1h-1zM283,466h1v1h-1zM277,469h1v1h-1zM280,465h1v1h-1zM288,467h1v1h-1zM281,470h1v1h-1zM273,470h1v1h-1zM287,465h1v1h-1zM274,466h1v1h-1zM283,469h1v1h-1zM281,461h1v1h-1zM285,465h1v1h-1zM287,464h1v1h-1zM280,467h1v1h-1zM273,471h1v1h-1zM274,473h1v1h-1zM274,468h1v1h-1zM284,465h1v1h-1zM278,465h1v1h-1zM283,470h1v1h-1zM281,463h1v1h-1zM273,473h1v1h-1zM270,470h1v1h-1zM278,462h1v1h-1zM288,465h1v1h-1zM283,462h1v1h-1zM276,460h1v1h-1zM282,467h1v1h-1zM283,464h1v1h-1zM276,470h1v1h-1zM274,472h1v1h-1zM283,468h1v1h-1zM276,467h1v1h-1zM269,470h1v1h-1zM283,468h1v1h-1zM272,470h1v1h-1zM285,468h1v1h-1zM272,467h1v1h-1zM276,463h1v1h-1zM271,472h1v1h-1zM278,459h1v1h-1zM274,467h1v1h-1zM279,469h1v1h-1zM280,471h1v1h-1zM272,469h1v1h-1zM274,465h1v1h-1zM275,463h1v1h-1zM283,466h1v1h-1zM286,466h1v1h-1zM272,472h1v1h-1zM278,467h1v1h-1zM280,469h1v1h-1zM280,468h1v1h-1zM275,459h1v1h-1zM269,471h1v1h-1zM272,472h1v1h-1zM273,468h1v1h-1zM281,462h1v1h-1zM275,460h1v1h-1zM284,461h1v1h-1zM281,469h1v1h-1zM283,462h1v1h-1zM279,461h1v1h-1zM280,467h1v1h-1zM279,468h1v1h-1zM269,471h1v1h-1zM272,468h1v1h-1zM278,464h1v1h-1zM287,465h1v1h-1zM276,467h1v1h-1zM283,467h1v1h-1zM282,469h1v1h-1zM283,462h1v1h-1zM279,465h1v1h-1zM272,471h1v1h-1zM272,470h1v1h-1zM278,465h1v1h-1zM284,462h1v1h-1z"/>
<path fill="#FFCC00" d="M281,466h1v1h-1zM287,466h1v1h-1zM275,459h1v1h-1zM277,467h1v1h-1zM277,459h1v1h-1zM275,466h1v1h-1zM278,465h1v1h-1zM274,470h1v1h-1zM278,471h1v1h-1zM276,464h1v1h-1zM287,465h1v1h-1zM281,468h1v1h-1zM285,464h1v1h-1zM279,468h1v1h-1zM269,470h1v1h-1zM275,469h1v1h-1zM273,473h1v1h-1zM275,463h1v1h-1zM286,462h1v1h-1zM273,466h1v1h-1zM272,471h1v1h-1zM286,464h1v1h-1zM284,466h1v1h-1zM286,466h1v1h-1zM271,473h1v1h-1z"/>
<path fill="#FFFFFF" d="M277,460h1v1h-1zM273,473h1v1h-1zM282,467h1v1h-1zM287,468h1v1h-1zM269,473h1v1h-1zM270,467h1v1h-1zM280,466h1v1h-1zM277,460h1v1h-1zM282,467h1v1h-1zM274,472h1v1h-1zM276,466h1v1h-1zM273,470h1v1h-1zM286,466h1v1h-1zM278,471h1v1h-1zM280,460h1v1h-1zM283,465h1v1h-1zM287,462h1v1h-1zM286,462h1v1h-1zM288,464h1v1h-1zM278,467h1v1h-1zM270,468h1v1h-1zM277,464h1v1h-1zM270,471h1v1h-1zM283,466h1v1h-1zM288,468h1v1h-1zM270,468h1v1h-1zM288,462h1v1h-1zM273,472h1v1h-1zM270,471h1v1h-1zM286,467h1v1h-1zM280,468h1v1h-1zM283,467h1v1h-1zM284,467h1v1h-1zM279,462h1v1h-1zM275,465h1v1h-1zM281,461h1v1h-1zM280,463h1v1h-1zM277,470h1v1h-1zM274,468h1v1h-1zM284,466h1v1h-1zM280,463h1v1h-1zM273,467h1v1h-1zM278,462h1v1h-1zM283,466h1v1h-1zM275,462h1v1h-1z"/>
<path fill="#DAFF28" d="M287,462h1v1h-1zM269,469h1v1h-1zM268,472h1v1h-1zM282,464h1v1h-1zM277,469h1v1h-1zM284,469h1v1h-1zM280,460h1v1h-1zM268,469h1v1h-1zM277,467h1v1h-1zM273,466h1v1h-1zM287,466h1v1h-1zM272,468h1v1h-1zM278,466h1v1h-1zM282,468h1v1h-1zM281,466h1v1h-1zM285,468h1v1h-1zM286,467h1v1h-1zM271,470h1v1h-1zM284,464h1v1h-1zM270,472h1v1h-1z"/>
<path fill="#FFFFFF" d="M271,475h1v1h-1zM264,476h1v1h-1zM259,474h1v1h-1zM256,473h1v1h-1zM263,476h1v1h-1zM268,476h1v1h-1zM260,474h1v1h-1zM272,476h1v1h-1zM270,476h1v1h-1zM264,475h1v1h-1zM272,475h1v1h-1zM269,476h1v1h-1zM270,475h1v1h-1zM256,471h1v1h-1zM258,473h1v1h-1zM256,471h1v1h-1zM261,475h1v1h-1zM268,476h1v1h-1zM271,476h1v1h-1zM264,476h1v1h-1zM259,473h1v1h-1zM263,475h1v1h-1zM253,469h1v1h-1zM257,472h1v1h-1zM271,475h1v1h-1z"/>
<path fill="#D3D3D3" d="M270,467h1v1h-1zM260,471h1v1h-1zM274,472h1v1h-1zM262,470h1v1h-1zM269,470h1v1h-1zM271,465h1v1h-1zM263,470h1v1h-1zM268,466h1v1h-1zM255,465h1v1h-1zM270,468h1v1h-1zM263,467h1v1h-1zM266,472h1v1h-1zM265,466h1v1h-1zM264,464h1v1h-1zM269,472h1v1h-1zM270,466h1v1h-1zM257,466h1v1h-1zM273,471h1v1h-1zM259,469h1v1h-1zM271,465h1v1h-1zM272,461h1v1h-1zM262,466h1v1h-1zM270,465h1v1h-1zM261,471h1v1h-1zM263,465h1v1h-1zM259,465h1v1h-1zM269,464h1v1h-1zM268,466h1v1h-1zM261,466h1v1h-1zM274,462h1v1h-1zM260,466h1v1h-1zM273,465h1v1h-1zM260,467h1v1h-1zM257,466h1v1h-1zM266,463h1v1h-1z"/>
<path fill="none" stroke="#FF9F00" stroke-width="1.0" d="M285,467.5 290,470.2 295,473.1"/>
<path fill="none" stroke="#FFF800" stroke-width="1.0" d="M287.5,470 292.5,471.9 296.9,474"/>
<path fill="#FFFFFF" d="M290,478h1v1h-1zM292,476h1v1h-1zM294,475h1v1h-1zM296,475h1v1h-1zM297,474h1v1h-1zM295,472h1v1h-1zM293,470h1v1h-1zM288,468h1v1h-1zM286,466h1v1h-1zM296,467h1v1h-1zM294,468h1v1h-1z"/>
<path fill="#2AFFD5" d="M288.1,463.5 292.2,462.8 292.8,466.5 289.4,468.1Z"/>
<path fill="#FFFFFF" d="M288,461h1v1h-1zM289,460h1v1h-1zM291,458h1v1h-1zM293,457h1v1h-1zM295,455h1v1h-1zM299,453h1v1h-1zM301,458h1v1h-1zM301,460h1v1h-1z"/>
<path fill="#8B0000" d="M252,452h1v1h-1zM254,452h1v1h-1zM243,444h1v1h-1zM251,456h1v1h-1zM242,449h1v1h-1zM245,450h1v1h-1zM254,451h1v1h-1zM252,455h1v1h-1zM245,452h1v1h-1zM246,450h1v1h-1zM249,453h1v1h-1zM243,447h1v1h-1zM252,444h1v1h-1zM243,447h1v1h-1zM242,450h1v1h-1zM246,455h1v1h-1zM249,451h1v1h-1zM243,447h1v1h-1zM244,444h1v1h-1zM250,447h1v1h-1zM252,452h1v1h-1zM254,450h1v1h-1zM250,445h1v1h-1zM251,448h1v1h-1zM252,452h1v1h-1zM243,446h1v1h-1zM250,451h1v1h-1zM252,447h1v1h-1zM248,450h1v1h-1zM248,446h1v1h-1zM250,446h1v1h-1zM244,445h1v1h-1zM254,448h1v1h-1zM254,455h1v1h-1zM245,451h1v1h-1zM250,443h1v1h-1zM249,450h1v1h-1zM251,446h1v1h-1zM254,452h1v1h-1zM254,446h1v1h-1zM251,457h1v1h-1zM253,445h1v1h-1zM253,454h1v1h-1zM248,458h1v1h-1zM255,452h1v1h-1zM252,453h1v1h-1zM247,450h1v1h-1zM248,445h1v1h-1zM254,454h1v1h-1zM251,450h1v1h-1zM249,453h1v1h-1zM248,442h1v1h-1zM253,457h1v1h-1zM246,449h1v1h-1zM255,451h1v1h-1zM251,443h1v1h-1zM251,444h1v1h-1zM251,447h1v1h-1zM249,442h1v1h-1zM253,456h1v1h-1zM249,454h1v1h-1zM246,443h1v1h-1zM246,455h1v1h-1zM249,443h1v1h-1zM244,450h1v1h-1zM247,443h1v1h-1zM252,456h1v1h-1zM245,451h1v1h-1zM245,449h1v1h-1zM245,453h1v1h-1zM254,454h1v1h-1zM252,450h1v1h-1zM250,456h1v1h-1zM252,453h1v1h-1zM242,450h1v1h-1zM245,452h1v1h-1zM247,449h1v1h-1zM249,452h1v1h-1zM254,446h1v1h-1zM245,444h1v1h-1zM242,445h1v1h-1zM244,450h1v1h-1zM251,444h1v1h-1zM243,447h1v1h-1zM253,457h1v1h-1zM251,446h1v1h-1zM251,445h1v1h-1zM248,445h1v1h-1zM254,453h1v1h-1zM251,452h1v1h-1zM253,450h1v1h-1zM250,450h1v1h-1zM252,451h1v1h-1zM245,450h1v1h-1zM249,457h1v1h-1zM252,445h1v1h-1zM248,452h1v1h-1zM249,449h1v1h-1zM248,454h1v1h-1zM254,450h1v1h-1zM253,454h1v1h-1zM242,446h1v1h-1zM245,447h1v1h-1zM248,446h1v1h-1zM246,454h1v1h-1zM250,459h1v1h-1zM246,457h1v1h-1zM253,447h1v1h-1zM247,447h1v1h-1zM248,454h1v1h-1zM252,444h1v1h-1zM244,447h1v1h-1zM243,450h1v1h-1zM247,445h1v1h-1zM251,447h1v1h-1zM252,457h1v1h-1zM245,446h1v1h-1zM251,443h1v1h-1zM255,453h1v1h-1zM249,442h1v1h-1zM245,449h1v1h-1zM250,442h1v1h-1zM255,455h1v1h-1zM253,455h1v1h-1zM243,445h1v1h-1z"/>
<path fill="#8B0000" d="M207,453h1v1h-1zM208,453h1v1h-1zM209,454h1v1h-1zM214,453h1v1h-1zM216,453h1v1h-1zM208,453h1v1h-1z"/>
<path fill="#8B0000" d="M236,455h1v1h-1zM236,453h1v1h-1zM220,450h1v1h-1zM234,455h1v1h-1zM225,451h1v1h-1zM237,457h1v1h-1zM220,454h1v1h-1zM234,457h1v1h-1zM232,457h1v1h-1zM230,456h1v1h-1zM238,456h1v1h-1zM230,454h1v1h-1zM226,453h1v1h-1zM223,452h1v1h-1zM221,455h1v1h-1zM235,458h1v1h-1zM227,451h1v1h-1zM239,456h1v1h-1z"/>
<path fill="#8B0000" d="M266,452h1v1h-1zM258,454h1v1h-1zM262,458h1v1h-1zM266,456h1v1h-1zM265,456h1v1h-1zM265,455h1v1h-1zM259,450h1v1h-1zM266,451h1v1h-1zM264,456h1v1h-1zM256,455h1v1h-1zM264,449h1v1h-1zM263,455h1v1h-1zM269,450h1v1h-1zM264,457h1v1h-1z"/>
<path fill="#8B0000" d="M275,460h1v1h-1zM277,459h1v1h-1z"/>
<path fill="#8B0000" d="M283,449h1v1h-1zM284,451h1v1h-1zM285,453h1v1h-1zM289,452h1v1h-1zM298,449h1v1h-1zM302,442h1v1h-1zM304,443h1v1h-1zM306,448h1v1h-1zM308,450h1v1h-1zM326,449h1v1h-1z"/>
<path fill="#FF7200" d="M305,449h1v1h-1zM307,450h1v1h-1zM309,451h1v1h-1zM318,443h1v1h-1z"/>
<path fill="#2AFFD5" d="M314.8,448.8 316.2,444 317.5,445.6 318.8,452.5 314.8,453Z"/>
<path fill="none" stroke="#FFFFFF" stroke-width="0.9" d="M287.5,462.8 291.2,459 295,455.2 300,452.8 307.5,452.5 314.4,453.2 320,453.2 328,452.5"/>
<path fill="#FFFFFF" d="M207.5,430.6 211.2,430 212.2,435.6 209,436Z"/>
<path fill="#8B0000" d="M360,453h1v1h-1zM361,456h1v1h-1zM373,461h1v1h-1zM366,458h1v1h-1zM363,457h1v1h-1zM367,455h1v1h-1zM359,452h1v1h-1zM369,455h1v1h-1zM381,459h1v1h-1zM366,457h1v1h-1zM365,457h1v1h-1zM368,459h1v1h-1zM376,459h1v1h-1zM365,459h1v1h-1zM359,455h1v1h-1zM371,460h1v1h-1zM375,458h1v1h-1zM371,459h1v1h-1zM373,456h1v1h-1zM366,456h1v1h-1zM358,452h1v1h-1zM362,453h1v1h-1z"/>
<path fill="#8B0000" d="M407,463h1v1h-1zM403,461h1v1h-1zM408,464h1v1h-1zM402,463h1v1h-1zM395,451h1v1h-1zM390,451h1v1h-1zM409,471h1v1h-1zM398,455h1v1h-1zM397,456h1v1h-1zM403,463h1v1h-1zM404,461h1v1h-1zM404,462h1v1h-1zM397,454h1v1h-1zM404,460h1v1h-1zM406,465h1v1h-1zM408,465h1v1h-1zM403,464h1v1h-1zM390,453h1v1h-1zM403,461h1v1h-1zM407,464h1v1h-1zM390,451h1v1h-1zM403,458h1v1h-1zM396,457h1v1h-1zM398,457h1v1h-1zM398,456h1v1h-1zM398,451h1v1h-1zM401,462h1v1h-1zM404,459h1v1h-1zM403,459h1v1h-1zM395,452h1v1h-1zM399,461h1v1h-1zM402,462h1v1h-1zM404,464h1v1h-1zM406,461h1v1h-1zM394,456h1v1h-1zM390,455h1v1h-1zM396,457h1v1h-1zM386,452h1v1h-1zM407,466h1v1h-1zM393,451h1v1h-1z"/>
<path fill="#FF7200" d="M368,461.2 372.7,460.9 373.4,463.1 368.8,463.4Z"/>
<path fill="#FF7200" d="M393,455 397.7,455.8 396.9,458.1 393,457.3Z"/>
<path fill="none" stroke="#FFFFFF" stroke-width="0.8" d="M323.4,453.1 334.4,450.6 350,450"/>
<path fill="none" stroke="#FFFFFF" stroke-width="1.0" d="M373.4,441.7 378.1,443.8"/>
<path fill="#2AFFD5" d="M188.9,470.9 196.8,466.2 206.1,465.2 203,469.4 196.8,474.1 190.5,473Z"/>
<path fill="none" stroke="#FFF800" stroke-width="1.3" d="M185.8,467.5 189.7,463.6 193.6,466.7"/>
<path fill="none" stroke="#DAFF28" stroke-width="1.5" d="M146,498.8 151.4,492.5 159.2,487 167.1,482.3"/>
<path fill="none" stroke="#FFFFFF" stroke-width="1.0" d="M137.4,505 145.2,496.4 151.4,491.2 159.2,485.9 167.1,481.6 174.9,479.7 181.1,475 187.4,470.3"/>
<path fill="none" stroke="#DAFF28" stroke-width="1.5" d="M139.2,514.4 140.8,523.8 143.3,531.6"/>
<path fill="none" stroke="#FFFFFF" stroke-width="1.2" d="M137.7,508.1 137.7,517.5 139.7,526.9 142.8,536.2"/>
<path fill="#FFF800" d="M134.2,544.1 139.7,541.7 141.3,544.8 137.4,552.2 133.9,551.1Z"/>
<path fill="none" stroke="#FFFFFF" stroke-width="1.2" d="M135,553.4 135.5,560"/>
<path fill="#8B0000" d="M139,521h1v1h-1zM136,523h1v1h-1zM134,531h1v1h-1zM136,534h1v1h-1zM140,534h1v1h-1zM143,538h1v1h-1zM137,521h1v1h-1zM135,533h1v1h-1zM139,530h1v1h-1zM137,512h1v1h-1zM141,532h1v1h-1zM137,526h1v1h-1zM137,524h1v1h-1zM140,532h1v1h-1zM135,530h1v1h-1zM135,520h1v1h-1zM136,528h1v1h-1zM140,532h1v1h-1zM136,513h1v1h-1zM142,536h1v1h-1zM137,525h1v1h-1zM135,524h1v1h-1zM139,539h1v1h-1zM138,526h1v1h-1zM139,534h1v1h-1zM140,534h1v1h-1zM135,522h1v1h-1zM135,520h1v1h-1zM136,535h1v1h-1zM140,536h1v1h-1zM135,525h1v1h-1zM133,517h1v1h-1zM136,529h1v1h-1zM135,527h1v1h-1zM133,526h1v1h-1zM135,517h1v1h-1zM140,532h1v1h-1zM135,511h1v1h-1zM138,530h1v1h-1zM138,537h1v1h-1zM139,522h1v1h-1zM142,536h1v1h-1zM139,522h1v1h-1zM138,534h1v1h-1zM134,517h1v1h-1zM131,513h1v1h-1zM134,525h1v1h-1zM134,521h1v1h-1zM139,520h1v1h-1zM136,511h1v1h-1zM142,537h1v1h-1zM140,529h1v1h-1zM138,525h1v1h-1zM139,524h1v1h-1zM136,535h1v1h-1zM134,522h1v1h-1zM139,538h1v1h-1zM135,523h1v1h-1zM136,516h1v1h-1zM135,533h1v1h-1zM133,524h1v1h-1zM134,527h1v1h-1zM137,515h1v1h-1zM139,530h1v1h-1zM133,517h1v1h-1zM134,519h1v1h-1zM142,536h1v1h-1zM136,516h1v1h-1zM134,524h1v1h-1zM137,533h1v1h-1zM140,532h1v1h-1zM134,517h1v1h-1zM137,520h1v1h-1zM137,533h1v1h-1zM137,527h1v1h-1zM136,534h1v1h-1zM140,534h1v1h-1zM134,525h1v1h-1zM138,527h1v1h-1zM136,514h1v1h-1z"/>
<path fill="#8B0000" d="M140,495h1v1h-1zM152,491h1v1h-1zM152,485h1v1h-1zM140,498h1v1h-1zM137,496h1v1h-1zM163,482h1v1h-1zM149,492h1v1h-1zM164,480h1v1h-1zM138,501h1v1h-1zM138,504h1v1h-1zM140,495h1v1h-1zM143,491h1v1h-1zM155,488h1v1h-1zM149,493h1v1h-1zM164,480h1v1h-1zM138,496h1v1h-1zM141,498h1v1h-1zM157,483h1v1h-1zM158,484h1v1h-1zM165,481h1v1h-1zM141,495h1v1h-1zM163,480h1v1h-1zM150,492h1v1h-1zM138,501h1v1h-1zM149,486h1v1h-1zM137,500h1v1h-1zM159,484h1v1h-1zM145,492h1v1h-1zM139,496h1v1h-1zM139,502h1v1h-1zM164,483h1v1h-1zM146,495h1v1h-1zM167,479h1v1h-1zM137,494h1v1h-1zM145,499h1v1h-1zM139,499h1v1h-1zM142,497h1v1h-1zM161,486h1v1h-1zM155,489h1v1h-1zM139,501h1v1h-1zM139,494h1v1h-1zM147,496h1v1h-1zM159,486h1v1h-1zM145,492h1v1h-1zM162,481h1v1h-1zM154,489h1v1h-1zM147,489h1v1h-1zM148,494h1v1h-1zM159,485h1v1h-1zM147,490h1v1h-1zM158,486h1v1h-1zM146,492h1v1h-1zM142,490h1v1h-1zM153,485h1v1h-1zM147,493h1v1h-1zM163,480h1v1h-1zM164,481h1v1h-1zM148,495h1v1h-1zM145,497h1v1h-1zM138,495h1v1h-1zM145,497h1v1h-1zM143,498h1v1h-1zM161,485h1v1h-1zM142,498h1v1h-1zM147,493h1v1h-1zM139,494h1v1h-1zM143,489h1v1h-1zM150,486h1v1h-1zM140,496h1v1h-1zM166,481h1v1h-1z"/>
<path fill="#8B0000" d="M183,467h1v1h-1zM187,470h1v1h-1zM192,467h1v1h-1zM193,466h1v1h-1zM183,471h1v1h-1zM176,471h1v1h-1zM190,459h1v1h-1zM181,468h1v1h-1zM182,469h1v1h-1zM183,464h1v1h-1zM185,465h1v1h-1zM194,465h1v1h-1zM190,460h1v1h-1zM187,462h1v1h-1zM182,469h1v1h-1zM188,460h1v1h-1zM189,463h1v1h-1zM184,468h1v1h-1zM180,470h1v1h-1zM183,470h1v1h-1zM182,467h1v1h-1zM187,461h1v1h-1z"/>
<path fill="#FF9F00" d="M180,478h1v1h-1zM177,478h1v1h-1zM180,476h1v1h-1zM181,477h1v1h-1z"/>
<path fill="#FFCC00" d="M617.7,803.8 623.9,801.4 627.5,812.3 625,814.7 622.3,813.9 620,810Z"/>
<path fill="#FFF800" d="M623.9,801.4 631.7,795.9 641.1,806.9 627.8,813.9 627,812.3Z"/>
<path fill="#FF9F00" d="M621.9,813.9 625.6,814.4 624.1,818.1 622.8,818.1Z"/>
<path fill="none" stroke="#FFF800" stroke-width="1.5" d="M623.8,817.8 624.1,822.5"/>
<path fill="#FFF800" d="M623.1,821.7 626.2,822.5 630.9,830.3 634.1,838.1 633.3,845.9 627.8,849.8 621.6,850.3 620,844.4 616.1,839.7 614.5,835.8 618.4,828.8Z"/>
<path fill="#DAFF28" d="M623.1,821.7 626.2,822.5 630.9,830.3 632.8,833.4 615.3,838.1 614.5,835.8 618.4,828.8Z"/>
<path fill="none" stroke="#FFFFFF" stroke-width="0.8" d="M617.2,807.7 616.6,811.6 620,813.9"/>
<path fill="#AAFF55" d="M787.8,823.1 794.1,822.3 803.4,821.6 812.8,823.9 812.5,827.8 808.1,831.7 803.4,832.5 800.3,831.7 797.2,834.8 794.1,829.4 790.9,826.2Z"/>
<path fill="#7FFF7F" d="M804.2,831.7 808.1,831.7 808.4,835.3 804.7,835.6Z"/>
<path fill="#DAFF28" d="M808.4,831.7 814.4,832.5 815.9,835.6 811.2,835.6Z"/>
<path fill="#DAFF28" d="M825.3,848.1 830,851.2 833.9,859.8 828.4,860.6 826.1,854.4Z"/>
<path fill="none" stroke="#FFFFFF" stroke-width="1.0" d="M758.9,814.1 765.2,814.5 768.3,811.4"/>
<path fill="none" stroke="#FFFFFF" stroke-width="1.0" d="M761.2,820.8 767.5,819.7"/>
<path fill="none" stroke="#FFFFFF" stroke-width="1.0" d="M762.8,823.1 770.6,823.9"/>
<path fill="none" stroke="#FFFFFF" stroke-width="1.0" d="M739.4,815 742.5,815.6"/>
<path fill="#FFFFFF" d="M754,798h1v1h-1zM725,799h1v1h-1zM697,795h1v1h-1zM818,772h1v1h-1zM818,777h1v1h-1zM809,793h1v1h-1zM813,786h1v1h-1z"/>
</g></svg>
<rect x="129.4" y="162.2" width="710.6" height="698.0999999999999" fill="none" stroke="#000" stroke-width="0.85"/>
<path d="M185.5,860.3V877.0999999999999" stroke="#000" stroke-width="0.85"/>
<text transform="translate(185.1,910.1) scale(1,1.075)" font-size="22.6" text-anchor="middle">95°W</text>
<path d="M279.1,860.3V877.0999999999999" stroke="#000" stroke-width="0.85"/>
<text transform="translate(278.7,910.1) scale(1,1.075)" font-size="22.6" text-anchor="middle">90°W</text>
<path d="M372.7,860.3V877.0999999999999" stroke="#000" stroke-width="0.85"/>
<text transform="translate(372.3,910.1) scale(1,1.075)" font-size="22.6" text-anchor="middle">85°W</text>
<path d="M466.3,860.3V877.0999999999999" stroke="#000" stroke-width="0.85"/>
<text transform="translate(465.9,910.1) scale(1,1.075)" font-size="22.6" text-anchor="middle">80°W</text>
<path d="M559.8,860.3V877.0999999999999" stroke="#000" stroke-width="0.85"/>
<text transform="translate(559.4,910.1) scale(1,1.075)" font-size="22.6" text-anchor="middle">75°W</text>
<path d="M653.4,860.3V877.0999999999999" stroke="#000" stroke-width="0.85"/>
<text transform="translate(653.0,910.1) scale(1,1.075)" font-size="22.6" text-anchor="middle">70°W</text>
<path d="M747.0,860.3V877.0999999999999" stroke="#000" stroke-width="0.85"/>
<text transform="translate(746.6,910.1) scale(1,1.075)" font-size="22.6" text-anchor="middle">65°W</text>
<path d="M112.4,832.7H129.4" stroke="#000" stroke-width="0.85"/>
<text transform="translate(97.7,841.0) scale(1,1.075)" font-size="22.6" text-anchor="end">10°N</text>
<path d="M112.4,739.1H129.4" stroke="#000" stroke-width="0.85"/>
<text transform="translate(97.7,747.4) scale(1,1.075)" font-size="22.6" text-anchor="end">15°N</text>
<path d="M112.4,645.5H129.4" stroke="#000" stroke-width="0.85"/>
<text transform="translate(97.7,653.8) scale(1,1.075)" font-size="22.6" text-anchor="end">20°N</text>
<path d="M112.4,551.9H129.4" stroke="#000" stroke-width="0.85"/>
<text transform="translate(97.7,560.2) scale(1,1.075)" font-size="22.6" text-anchor="end">25°N</text>
<path d="M112.4,458.3H129.4" stroke="#000" stroke-width="0.85"/>
<text transform="translate(97.7,466.6) scale(1,1.075)" font-size="22.6" text-anchor="end">30°N</text>
<path d="M112.4,364.7H129.4" stroke="#000" stroke-width="0.85"/>
<text transform="translate(97.7,373.0) scale(1,1.075)" font-size="22.6" text-anchor="end">35°N</text>
<path d="M112.4,271.1H129.4" stroke="#000" stroke-width="0.85"/>
<text transform="translate(97.7,279.4) scale(1,1.075)" font-size="22.6" text-anchor="end">40°N</text>
<path d="M112.4,177.5H129.4" stroke="#000" stroke-width="0.85"/>
<text transform="translate(97.7,185.8) scale(1,1.075)" font-size="22.6" text-anchor="end">45°N</text>
<text transform="translate(484.0,944.8) scale(1,1.06)" font-size="22.8" text-anchor="middle">Longitude</text>
<text transform="translate(41.4,511.0) rotate(-90) scale(1,1.06)" font-size="22.8" text-anchor="middle">Latitude</text>
<text transform="translate(164.0,133.5) scale(1,1.0)" font-size="25.5" text-anchor="start">2021080805</text>
<text transform="translate(657.0,128.6) scale(1,1.0)" font-size="25.5" text-anchor="start">Elevation (m)</text>
<rect x="878.7" y="169.4" width="42.19999999999993" height="31.08" fill="#8B0000" stroke="#000" stroke-width="0.6"/>
<rect x="878.7" y="200.5" width="42.19999999999993" height="31.08" fill="#B90000" stroke="#000" stroke-width="0.6"/>
<rect x="878.7" y="231.6" width="42.19999999999993" height="31.08" fill="#E80000" stroke="#000" stroke-width="0.6"/>
<rect x="878.7" y="262.7" width="42.19999999999993" height="31.08" fill="#FF1600" stroke="#000" stroke-width="0.6"/>
<rect x="878.7" y="293.8" width="42.19999999999993" height="31.08" fill="#FF4600" stroke="#000" stroke-width="0.6"/>
<rect x="878.7" y="324.8" width="42.19999999999993" height="31.08" fill="#FF7200" stroke="#000" stroke-width="0.6"/>
<rect x="878.7" y="355.9" width="42.19999999999993" height="31.08" fill="#FF9F00" stroke="#000" stroke-width="0.6"/>
<rect x="878.7" y="387.0" width="42.19999999999993" height="31.08" fill="#FFCC00" stroke="#000" stroke-width="0.6"/>
<rect x="878.7" y="418.1" width="42.19999999999993" height="31.08" fill="#FFF800" stroke="#000" stroke-width="0.6"/>
<rect x="878.7" y="449.2" width="42.19999999999993" height="31.08" fill="#DAFF28" stroke="#000" stroke-width="0.6"/>
<rect x="878.7" y="480.2" width="42.19999999999993" height="31.08" fill="#AAFF55" stroke="#000" stroke-width="0.6"/>
<rect x="878.7" y="511.3" width="42.19999999999993" height="31.08" fill="#7FFF7F" stroke="#000" stroke-width="0.6"/>
<rect x="878.7" y="542.4" width="42.19999999999993" height="31.08" fill="#50FFAC" stroke="#000" stroke-width="0.6"/>
<rect x="878.7" y="573.5" width="42.19999999999993" height="31.08" fill="#2AFFD5" stroke="#000" stroke-width="0.6"/>
<rect x="878.7" y="604.6" width="42.19999999999993" height="31.08" fill="#00EAFF" stroke="#000" stroke-width="0.6"/>
<rect x="878.7" y="635.6" width="42.19999999999993" height="31.08" fill="#00BFFF" stroke="#000" stroke-width="0.6"/>
<rect x="878.7" y="666.7" width="42.19999999999993" height="31.08" fill="#0095FF" stroke="#000" stroke-width="0.6"/>
<rect x="878.7" y="697.8" width="42.19999999999993" height="31.08" fill="#006AFF" stroke="#000" stroke-width="0.6"/>
<rect x="878.7" y="728.9" width="42.19999999999993" height="31.08" fill="#0040FF" stroke="#000" stroke-width="0.6"/>
<rect x="878.7" y="760.0" width="42.19999999999993" height="31.08" fill="#0010F5" stroke="#000" stroke-width="0.6"/>
<rect x="878.7" y="791.0" width="42.19999999999993" height="31.08" fill="#0000DA" stroke="#000" stroke-width="0.6"/>
<rect x="878.7" y="822.1" width="42.19999999999993" height="31.08" fill="#0000B0" stroke="#000" stroke-width="0.6"/>
<text transform="translate(959.5,212.1) scale(1,1.07)" font-size="31" text-anchor="middle">2</text>
<text transform="translate(959.5,274.3) scale(1,1.07)" font-size="31" text-anchor="middle">1.6</text>
<text transform="translate(959.5,336.4) scale(1,1.07)" font-size="31" text-anchor="middle">1.2</text>
<text transform="translate(959.5,398.6) scale(1,1.07)" font-size="31" text-anchor="middle">0.8</text>
<text transform="translate(959.5,460.8) scale(1,1.07)" font-size="31" text-anchor="middle">0.4</text>
<text transform="translate(959.5,522.9) scale(1,1.07)" font-size="31" text-anchor="middle">0</text>
<text transform="translate(959.5,585.1) scale(1,1.07)" font-size="31" text-anchor="middle">-0.4</text>
<text transform="translate(959.5,647.2) scale(1,1.07)" font-size="31" text-anchor="middle">-0.8</text>
<text transform="translate(959.5,709.4) scale(1,1.07)" font-size="31" text-anchor="middle">-1.2</text>
<text transform="translate(959.5,771.6) scale(1,1.07)" font-size="31" text-anchor="middle">-1.6</text>
<text transform="translate(959.5,833.7) scale(1,1.07)" font-size="31" text-anchor="middle">-2</text>
</svg></body></html>
